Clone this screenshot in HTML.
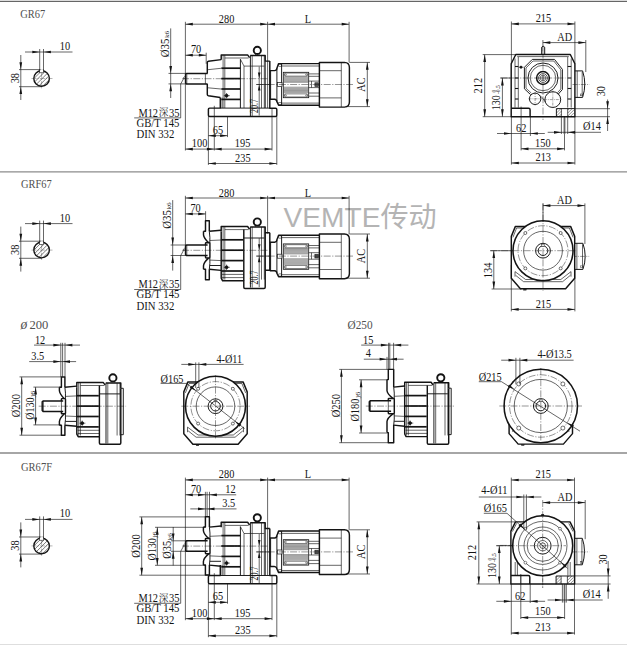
<!DOCTYPE html>
<html><head><meta charset="utf-8"><title>GR67</title>
<style>
html,body{margin:0;padding:0;background:#fff;}
body{width:627px;height:645px;overflow:hidden;}
svg{display:block;}
text{white-space:pre;}
</style></head><body>
<svg width="627" height="645" viewBox="0 0 627 645">
<rect x="0" y="0" width="627" height="645" fill="#ffffff"/>
<rect x="0" y="0" width="627" height="1" fill="#dcdcdc"/>
<rect x="0" y="1" width="627" height="1" fill="#666666"/>
<line x1="0" y1="171.9" x2="627" y2="171.9" stroke="#8c8c8c" stroke-width="1.4"/>
<line x1="0" y1="452.9" x2="627" y2="452.9" stroke="#888888" stroke-width="1.5"/>
<rect x="0" y="644" width="627" height="1" fill="#dedede"/>
<text x="0" y="0" font-family='"Liberation Serif", "Noto Serif CJK SC", serif' font-size="13" text-anchor="start" fill="#505050" transform="translate(20.3 17.5)" textLength="25" lengthAdjust="spacingAndGlyphs">GR67</text>
<text x="0" y="0" font-family='"Liberation Serif", "Noto Serif CJK SC", serif' font-size="13" text-anchor="start" fill="#505050" transform="translate(21 187.8)" textLength="30.8" lengthAdjust="spacingAndGlyphs">GRF67</text>
<text x="0" y="0" font-family='"Liberation Serif", "Noto Serif CJK SC", serif' font-size="12.6" fill="#505050" transform="translate(20.4 329)"><tspan font-style="italic" font-size="15.5" textLength="6.8" lengthAdjust="spacingAndGlyphs">ø</tspan><tspan x="5.85"> 200</tspan></text>
<text x="0" y="0" font-family='"Liberation Serif", "Noto Serif CJK SC", serif' font-size="13" text-anchor="start" fill="#505050" transform="translate(347.6 328.5)" textLength="25" lengthAdjust="spacingAndGlyphs">Ø250</text>
<text x="0" y="0" font-family='"Liberation Serif", "Noto Serif CJK SC", serif' font-size="13" text-anchor="start" fill="#505050" transform="translate(21 470.8)" textLength="31" lengthAdjust="spacingAndGlyphs">GR67F</text>
<text x="0" y="0" font-family='"Liberation Sans", "Noto Sans CJK SC", sans-serif' font-size="28" text-anchor="start" fill="#b4b4b4" transform="translate(283.6 227.4)" textLength="153" lengthAdjust="spacingAndGlyphs">VEMTE传动</text>
<line x1="34.31" y1="78.16" x2="41.26" y2="71.21" stroke="#222" stroke-width="0.6"/>
<line x1="34.98" y1="81.58" x2="44.68" y2="71.88" stroke="#222" stroke-width="0.6"/>
<line x1="36.73" y1="83.94" x2="47.04" y2="73.63" stroke="#222" stroke-width="0.6"/>
<line x1="39.33" y1="85.44" x2="48.54" y2="76.23" stroke="#222" stroke-width="0.6"/>
<line x1="43.26" y1="85.61" x2="48.71" y2="80.16" stroke="#222" stroke-width="0.6"/>
<circle cx="41.6" cy="78.5" r="7.8" fill="none" stroke="#141414" stroke-width="1.4"/>
<rect x="39.7" y="69.4" width="3.8" height="3.4" rx="0" fill="#fff" stroke="#141414" stroke-width="0.6"/>
<line x1="39.7" y1="69.4" x2="43.5" y2="69.4" stroke="#fff" stroke-width="0.9"/>
<line x1="25" y1="52" x2="72.5" y2="52" stroke="#141414" stroke-width="0.65"/>
<polygon points="39.7,52 32.3,50.65 32.3,53.35" fill="#141414"/>
<polygon points="43.5,52 50.9,50.65 50.9,53.35" fill="#141414"/>
<line x1="39.7" y1="49" x2="39.7" y2="70.6" stroke="#141414" stroke-width="0.65"/>
<line x1="43.5" y1="49" x2="43.5" y2="70.6" stroke="#141414" stroke-width="0.65"/>
<text x="0" y="0.4" font-family='"Liberation Serif", "Noto Serif CJK SC", serif' font-size="11.48" text-anchor="middle" fill="#141414" transform="translate(65 49.6) scale(0.9 1)">10</text>
<line x1="20.8" y1="55" x2="20.8" y2="100" stroke="#141414" stroke-width="0.65"/>
<polygon points="20.8,69.6 19.45,62.2 22.15,62.2" fill="#141414"/>
<polygon points="20.8,86.7 19.45,94.1 22.15,94.1" fill="#141414"/>
<line x1="19" y1="69.6" x2="40.5" y2="69.6" stroke="#141414" stroke-width="0.65"/>
<line x1="19" y1="86.7" x2="42" y2="86.7" stroke="#141414" stroke-width="0.65"/>
<text x="0" y="0.4" font-family='"Liberation Serif", "Noto Serif CJK SC", serif' font-size="11.48" text-anchor="middle" fill="#141414" transform="translate(18.2 78.2) rotate(-90) scale(0.9 1)">38</text>
<line x1="31.5" y1="78.5" x2="52.5" y2="78.5" stroke="#444" stroke-width="0.4" stroke-dasharray="5 1.2 1 1.2"/>
<line x1="41.6" y1="72.8" x2="41.6" y2="89" stroke="#444" stroke-width="0.4" stroke-dasharray="5 1.2 1 1.2"/>
<path d="M207.6,73.4 H186.5 L185.6,74.3 V83 L186.5,83.9 H207.6" fill="none" stroke="#141414" stroke-width="1.45" stroke-linejoin="round"/>
<line x1="186.8" y1="73.4" x2="186.8" y2="83.9" stroke="#141414" stroke-width="0.65"/>
<line x1="182.1" y1="78.7" x2="268" y2="78.7" stroke="#141414" stroke-width="0.45" stroke-dasharray="7 1.5 1.2 1.5"/>
<path d="M221.2,59.8 V54.9 H247.6 L249.6,57.6" fill="none" stroke="#141414" stroke-width="1.45" stroke-linejoin="round"/>
<path d="M250.2,55.4 H265.2 V61.1 H269.8" fill="none" stroke="#141414" stroke-width="1.45" stroke-linejoin="round"/>
<line x1="224.8" y1="58" x2="248.6" y2="58" stroke="#141414" stroke-width="0.65"/>
<line x1="223.1" y1="55" x2="223.1" y2="108" stroke="#141414" stroke-width="0.65"/>
<line x1="224.8" y1="55" x2="224.8" y2="108" stroke="#141414" stroke-width="0.65"/>
<line x1="221.3" y1="68.2" x2="240.4" y2="68.2" stroke="#141414" stroke-width="1.7"/>
<line x1="221.3" y1="78.6" x2="240.4" y2="78.6" stroke="#141414" stroke-width="1.7"/>
<line x1="221.3" y1="89" x2="240.4" y2="89" stroke="#141414" stroke-width="1.7"/>
<line x1="221.3" y1="99.4" x2="240.4" y2="99.4" stroke="#141414" stroke-width="1.7"/>
<line x1="240.4" y1="59.2" x2="240.4" y2="108" stroke="#141414" stroke-width="0.95"/>
<line x1="240.4" y1="59.2" x2="244" y2="66.1" stroke="#141414" stroke-width="0.65"/>
<line x1="244" y1="66.1" x2="244" y2="108" stroke="#141414" stroke-width="0.65"/>
<line x1="244" y1="66.1" x2="264.3" y2="66.1" stroke="#141414" stroke-width="0.65"/>
<line x1="250.4" y1="55.4" x2="250.4" y2="116" stroke="#141414" stroke-width="0.95"/>
<line x1="252.2" y1="55.4" x2="252.2" y2="116" stroke="#141414" stroke-width="0.65"/>
<line x1="261.5" y1="55.4" x2="261.5" y2="108" stroke="#141414" stroke-width="0.65"/>
<line x1="264.3" y1="55.4" x2="264.3" y2="108" stroke="#141414" stroke-width="0.65"/>
<circle cx="226.6" cy="95.7" r="1.4" fill="#141414" stroke="#141414" stroke-width="0.9"/>
<line x1="223.8" y1="95.7" x2="229.8" y2="95.7" stroke="#141414" stroke-width="0.6"/>
<line x1="226.6" y1="93" x2="226.6" y2="98.4" stroke="#141414" stroke-width="0.6"/>
<circle cx="257.3" cy="50.4" r="3.6" fill="none" stroke="#141414" stroke-width="1.9"/>
<line x1="255.5" y1="53.6" x2="255.5" y2="55.2" stroke="#141414" stroke-width="0.7"/>
<line x1="259.1" y1="53.6" x2="259.1" y2="55.2" stroke="#141414" stroke-width="0.7"/>
<line x1="259.2" y1="66.6" x2="259.2" y2="115.6" stroke="#141414" stroke-width="0.65"/>
<polygon points="259.2,78.4 257.9,72.6 260.5,72.6" fill="#141414"/>
<polygon points="259.2,84.8 257.9,90.6 260.5,90.6" fill="#141414"/>
<line x1="256.2" y1="84.5" x2="270" y2="84.5" stroke="#141414" stroke-width="0.65"/>
<text x="0" y="0.4" font-family='"Liberation Serif", "Noto Serif CJK SC", serif' font-size="11.48" text-anchor="middle" fill="#141414" transform="translate(258 106) rotate(-90) scale(0.9 1)" textLength="15.56" lengthAdjust="spacingAndGlyphs">20.7</text>
<path d="M221.2,59.6 L208.4,61.3 Q207.3,61.5 207.3,62.6 V73.4" fill="none" stroke="#141414" stroke-width="1.45" stroke-linejoin="round"/>
<path d="M207.3,83.9 V94.6 Q207.3,95.6 208.4,95.8 L220.3,97.5" fill="none" stroke="#141414" stroke-width="1.45" stroke-linejoin="round"/>
<line x1="207.9" y1="69.7" x2="221" y2="68.3" stroke="#141414" stroke-width="0.65"/>
<line x1="207.9" y1="87.8" x2="221" y2="89" stroke="#141414" stroke-width="0.65"/>
<line x1="205.4" y1="73.4" x2="205.4" y2="83.9" stroke="#141414" stroke-width="0.65"/>
<path d="M220.3,97.5 V108.1 H209.6 Q208.4,108.1 208.4,109.3 V115.2 Q208.4,116.4 209.6,116.4 H275.6 Q276.8,116.4 276.8,115.2 V109.4 Q276.8,108.2 275.6,108.2 H269.8 V61.1" fill="none" stroke="#141414" stroke-width="1.45" stroke-linejoin="round"/>
<line x1="220.3" y1="108.1" x2="269.8" y2="108.1" stroke="#141414" stroke-width="0.95"/>
<line x1="265.2" y1="61.1" x2="265.2" y2="108" stroke="#141414" stroke-width="0.95"/>
<line x1="214.3" y1="105.8" x2="214.3" y2="116.4" stroke="#141414" stroke-width="0.65"/>
<line x1="222" y1="97.5" x2="222" y2="108" stroke="#141414" stroke-width="0.65"/>
<line x1="272" y1="108.2" x2="272" y2="116.4" stroke="#141414" stroke-width="0.65"/>
<path d="M269.8,70.6 H274.6 Q276.7,70.4 276.9,68.2 L278.6,63.6 H319.4" fill="none" stroke="#141414" stroke-width="1.45" stroke-linejoin="round"/>
<path d="M269.8,99.2 H274.6 Q276.7,99.4 276.9,101.6 L278.6,105.2 H319.4" fill="none" stroke="#141414" stroke-width="1.45" stroke-linejoin="round"/>
<line x1="270.6" y1="70.6" x2="270.6" y2="99.2" stroke="#141414" stroke-width="0.95"/>
<line x1="276.9" y1="68.2" x2="276.9" y2="101.6" stroke="#141414" stroke-width="0.95"/>
<line x1="281.6" y1="63.8" x2="281.6" y2="105" stroke="#141414" stroke-width="0.95"/>
<rect x="278.8" y="64.3" width="2.4" height="2.2" rx="0" fill="none" stroke="#141414" stroke-width="0.5"/>
<rect x="278.8" y="102.3" width="2.4" height="2.2" rx="0" fill="none" stroke="#141414" stroke-width="0.5"/>
<line x1="281.6" y1="66" x2="319.4" y2="66" stroke="#141414" stroke-width="0.65"/>
<line x1="281.6" y1="103.1" x2="319.4" y2="103.1" stroke="#141414" stroke-width="0.65"/>
<path d="M319.4,62.4 H344.4 Q349.4,62.6 349.4,67.6 V102 Q349.4,106.9 344.4,107.1 H319.4 Z" fill="none" stroke="#141414" stroke-width="1.45" stroke-linejoin="round"/>
<line x1="341.3" y1="62.6" x2="341.3" y2="107" stroke="#141414" stroke-width="0.65"/>
<line x1="319.4" y1="70.7" x2="341.3" y2="70.7" stroke="#141414" stroke-width="0.65"/>
<line x1="319.4" y1="97.9" x2="341.3" y2="97.9" stroke="#141414" stroke-width="0.65"/>
<rect x="283.3" y="72.3" width="25.4" height="25.4" rx="0" fill="none" stroke="#141414" stroke-width="0.8"/>
<rect x="284.4" y="73.1" width="23.2" height="3" rx="0.8" fill="none" stroke="#141414" stroke-width="0.5"/>
<rect x="284.4" y="93.9" width="23.2" height="3" rx="0.8" fill="none" stroke="#141414" stroke-width="0.5"/>
<line x1="283.8" y1="76.9" x2="308.2" y2="76.9" stroke="#333" stroke-width="0.5"/>
<line x1="283.8" y1="78" x2="308.2" y2="78" stroke="#333" stroke-width="0.5"/>
<line x1="283.8" y1="79.1" x2="308.2" y2="79.1" stroke="#333" stroke-width="0.5"/>
<line x1="283.8" y1="80.2" x2="308.2" y2="80.2" stroke="#333" stroke-width="0.5"/>
<line x1="283.8" y1="81.3" x2="308.2" y2="81.3" stroke="#333" stroke-width="0.5"/>
<line x1="283.8" y1="82.3" x2="308.2" y2="82.3" stroke="#333" stroke-width="0.5"/>
<line x1="283.8" y1="87.2" x2="308.2" y2="87.2" stroke="#333" stroke-width="0.5"/>
<line x1="283.8" y1="88.3" x2="308.2" y2="88.3" stroke="#333" stroke-width="0.5"/>
<line x1="283.8" y1="89.4" x2="308.2" y2="89.4" stroke="#333" stroke-width="0.5"/>
<line x1="283.8" y1="90.5" x2="308.2" y2="90.5" stroke="#333" stroke-width="0.5"/>
<line x1="283.8" y1="91.6" x2="308.2" y2="91.6" stroke="#333" stroke-width="0.5"/>
<line x1="283.8" y1="92.7" x2="308.2" y2="92.7" stroke="#333" stroke-width="0.5"/>
<circle cx="285.6" cy="74.6" r="0.8" fill="none" stroke="#141414" stroke-width="0.4"/>
<circle cx="306.4" cy="74.6" r="0.8" fill="none" stroke="#141414" stroke-width="0.4"/>
<circle cx="285.6" cy="95.4" r="0.8" fill="none" stroke="#141414" stroke-width="0.4"/>
<circle cx="306.4" cy="95.4" r="0.8" fill="none" stroke="#141414" stroke-width="0.4"/>
<line x1="308.7" y1="73.9" x2="319.4" y2="73.9" stroke="#141414" stroke-width="0.65"/>
<line x1="308.7" y1="76.3" x2="319.4" y2="76.3" stroke="#141414" stroke-width="0.65"/>
<line x1="308.7" y1="81.1" x2="319.4" y2="81.1" stroke="#141414" stroke-width="0.65"/>
<line x1="308.7" y1="87.6" x2="319.4" y2="87.6" stroke="#141414" stroke-width="0.65"/>
<line x1="308.7" y1="93" x2="319.4" y2="93" stroke="#141414" stroke-width="0.65"/>
<line x1="308.7" y1="96.2" x2="319.4" y2="96.2" stroke="#141414" stroke-width="0.65"/>
<line x1="311.5" y1="81.1" x2="311.5" y2="87.6" stroke="#141414" stroke-width="0.65"/>
<rect x="277.4" y="82.6" width="4.6" height="4" rx="0" fill="#fff" stroke="#141414" stroke-width="0.7"/>
<rect x="314.9" y="82.8" width="3.4" height="3.6" rx="0" fill="#555" stroke="#141414" stroke-width="0.6"/>
<line x1="256.5" y1="84.5" x2="353" y2="84.5" stroke="#141414" stroke-width="0.45" stroke-dasharray="7 1.5 1.2 1.5"/>
<line x1="185.4" y1="24.2" x2="267.6" y2="24.2" stroke="#141414" stroke-width="0.65"/>
<polygon points="185.4,24.2 192.8,22.85 192.8,25.55" fill="#141414"/>
<polygon points="267.6,24.2 260.2,22.85 260.2,25.55" fill="#141414"/>
<line x1="267.6" y1="24.2" x2="349.1" y2="24.2" stroke="#141414" stroke-width="0.65"/>
<polygon points="267.6,24.2 275,22.85 275,25.55" fill="#141414"/>
<polygon points="349.1,24.2 341.7,22.85 341.7,25.55" fill="#141414"/>
<text x="0" y="0.4" font-family='"Liberation Serif", "Noto Serif CJK SC", serif' font-size="11.48" text-anchor="middle" fill="#141414" transform="translate(226.6 22.4) scale(0.9 1)">280</text>
<text x="0" y="0.4" font-family='"Liberation Serif", "Noto Serif CJK SC", serif' font-size="11.48" text-anchor="middle" fill="#141414" transform="translate(307.9 22.4) scale(0.9 1)">L</text>
<line x1="185.4" y1="21.8" x2="185.4" y2="150.5" stroke="#141414" stroke-width="0.65"/>
<line x1="267.6" y1="21.8" x2="267.6" y2="108" stroke="#141414" stroke-width="0.65"/>
<line x1="349.1" y1="21.8" x2="349.1" y2="62.4" stroke="#141414" stroke-width="0.65"/>
<line x1="349.4" y1="62.4" x2="370" y2="62.4" stroke="#141414" stroke-width="0.65"/>
<line x1="346" y1="106.6" x2="370" y2="106.6" stroke="#141414" stroke-width="0.65"/>
<line x1="367.3" y1="62.4" x2="367.3" y2="106.6" stroke="#141414" stroke-width="0.65"/>
<polygon points="367.3,62.4 365.95,69.8 368.65,69.8" fill="#141414"/>
<polygon points="367.3,106.6 365.95,99.2 368.65,99.2" fill="#141414"/>
<text x="0" y="0.4" font-family='"Liberation Serif", "Noto Serif CJK SC", serif' font-size="11.48" text-anchor="middle" fill="#141414" transform="translate(365 84.5) rotate(-90) scale(0.9 1)">AC</text>
<line x1="185.4" y1="55.2" x2="206.2" y2="55.2" stroke="#141414" stroke-width="0.65"/>
<polygon points="185.4,55.2 192.8,53.85 192.8,56.55" fill="#141414"/>
<polygon points="206.2,55.2 198.8,53.85 198.8,56.55" fill="#141414"/>
<text x="0" y="0.4" font-family='"Liberation Serif", "Noto Serif CJK SC", serif' font-size="11.48" text-anchor="middle" fill="#141414" transform="translate(196.1 52.9) scale(0.9 1)">70</text>
<line x1="206.2" y1="52.7" x2="206.2" y2="63.8" stroke="#141414" stroke-width="0.65"/>
<line x1="170.7" y1="28.4" x2="170.7" y2="98" stroke="#141414" stroke-width="0.65"/>
<polygon points="170.7,73.4 169.35,66 172.05,66" fill="#141414"/>
<polygon points="170.7,83.9 169.35,91.3 172.05,91.3" fill="#141414"/>
<line x1="168.5" y1="73.4" x2="186" y2="73.4" stroke="#141414" stroke-width="0.65"/>
<line x1="168.5" y1="83.9" x2="186" y2="83.9" stroke="#141414" stroke-width="0.65"/>
<text x="0" y="0.4" font-family='"Liberation Serif", "Noto Serif CJK SC", serif' font-size="11.82" text-anchor="start" fill="#141414" transform="translate(169 57.2) rotate(-90) scale(0.9 1)" textLength="20.67" lengthAdjust="spacingAndGlyphs">Ø35</text>
<text x="0" y="0.4" font-family='"Liberation Serif", "Noto Serif CJK SC", serif' font-size="6.47" text-anchor="start" fill="#141414" transform="translate(169 38) rotate(-90) scale(0.9 1)" textLength="8" lengthAdjust="spacingAndGlyphs">k6</text>
<text x="0" y="0.4" font-family='"Liberation Serif", "Noto Serif CJK SC", serif' font-size="11.6" fill="#141414" transform="translate(138.4 116.2) scale(0.9 1)"><tspan textLength="21.8" lengthAdjust="spacingAndGlyphs">M12</tspan><tspan x="22.5" dy="-0.4" font-size="10.7" fill="#333">深</tspan><tspan x="33.9" dy="0.4" textLength="11.7" lengthAdjust="spacingAndGlyphs">35</tspan></text>
<line x1="134.2" y1="117.9" x2="180.7" y2="117.9" stroke="#141414" stroke-width="0.65"/>
<text x="0" y="0.4" font-family='"Liberation Serif", "Noto Serif CJK SC", serif' font-size="11.6" text-anchor="start" fill="#141414" transform="translate(136.4 126.2) scale(0.9 1)" textLength="47.78" lengthAdjust="spacingAndGlyphs">GB/T 145</text>
<text x="0" y="0.4" font-family='"Liberation Serif", "Noto Serif CJK SC", serif' font-size="11.6" text-anchor="start" fill="#141414" transform="translate(136.4 138) scale(0.9 1)" textLength="42.22" lengthAdjust="spacingAndGlyphs">DIN 332</text>
<line x1="180.7" y1="117.9" x2="180.7" y2="84" stroke="#141414" stroke-width="0.65"/>
<line x1="180.7" y1="84" x2="184.2" y2="77.6" stroke="#141414" stroke-width="0.65"/>
<path d="M185.2,76 L183.4,77.7 L185.2,79.2" fill="none" stroke="#141414" stroke-width="0.5" stroke-linejoin="round"/>
<line x1="208.4" y1="116.4" x2="208.4" y2="164.9" stroke="#141414" stroke-width="0.65"/>
<line x1="227.5" y1="116.4" x2="227.5" y2="137.1" stroke="#141414" stroke-width="0.65"/>
<line x1="214.3" y1="116.4" x2="214.3" y2="150.5" stroke="#141414" stroke-width="0.65"/>
<line x1="272" y1="116.4" x2="272" y2="150.5" stroke="#141414" stroke-width="0.65"/>
<line x1="276.8" y1="116.4" x2="276.8" y2="164.9" stroke="#141414" stroke-width="0.65"/>
<line x1="208.4" y1="135.7" x2="227.5" y2="135.7" stroke="#141414" stroke-width="0.65"/>
<polygon points="208.4,135.7 215.8,134.35 215.8,137.05" fill="#141414"/>
<polygon points="227.5,135.7 220.1,134.35 220.1,137.05" fill="#141414"/>
<text x="0" y="0.4" font-family='"Liberation Serif", "Noto Serif CJK SC", serif' font-size="11.48" text-anchor="middle" fill="#141414" transform="translate(218 133.1) scale(0.9 1)">65</text>
<line x1="185.4" y1="149.1" x2="214.3" y2="149.1" stroke="#141414" stroke-width="0.65"/>
<polygon points="185.4,149.1 192.8,147.75 192.8,150.45" fill="#141414"/>
<polygon points="214.3,149.1 206.9,147.75 206.9,150.45" fill="#141414"/>
<line x1="214.3" y1="149.1" x2="272" y2="149.1" stroke="#141414" stroke-width="0.65"/>
<polygon points="214.3,149.1 221.7,147.75 221.7,150.45" fill="#141414"/>
<polygon points="272,149.1 264.6,147.75 264.6,150.45" fill="#141414"/>
<text x="0" y="0.4" font-family='"Liberation Serif", "Noto Serif CJK SC", serif' font-size="11.48" text-anchor="middle" fill="#141414" transform="translate(199.6 146.7) scale(0.9 1)">100</text>
<text x="0" y="0.4" font-family='"Liberation Serif", "Noto Serif CJK SC", serif' font-size="11.48" text-anchor="middle" fill="#141414" transform="translate(242.6 146.7) scale(0.9 1)">195</text>
<line x1="208.4" y1="163.5" x2="276.8" y2="163.5" stroke="#141414" stroke-width="0.65"/>
<polygon points="208.4,163.5 215.8,162.15 215.8,164.85" fill="#141414"/>
<polygon points="276.8,163.5 269.4,162.15 269.4,164.85" fill="#141414"/>
<text x="0" y="0.4" font-family='"Liberation Serif", "Noto Serif CJK SC", serif' font-size="11.48" text-anchor="middle" fill="#141414" transform="translate(242.8 161.2) scale(0.9 1)">235</text>
<path d="M515.8,54.5 H570.3 L574.9,63.7 V116.7 H511.2 V63.7 Z" fill="none" stroke="#141414" stroke-width="1.45" stroke-linejoin="round"/>
<path d="M517.2,56.6 H568.8" fill="none" stroke="#141414" stroke-width="0.65" stroke-linejoin="round"/>
<line x1="515" y1="58.5" x2="515" y2="107.6" stroke="#141414" stroke-width="0.65"/>
<line x1="518.3" y1="57" x2="518.3" y2="107.6" stroke="#141414" stroke-width="0.65"/>
<line x1="567.7" y1="57" x2="567.7" y2="107.6" stroke="#141414" stroke-width="0.65"/>
<line x1="571.2" y1="58.5" x2="571.2" y2="107.6" stroke="#141414" stroke-width="0.65"/>
<line x1="515" y1="66.5" x2="518.3" y2="66.5" stroke="#141414" stroke-width="1.1"/>
<line x1="567.7" y1="66.5" x2="571.2" y2="66.5" stroke="#141414" stroke-width="1.1"/>
<line x1="515" y1="78" x2="518.3" y2="78" stroke="#141414" stroke-width="1.1"/>
<line x1="567.7" y1="78" x2="571.2" y2="78" stroke="#141414" stroke-width="1.1"/>
<line x1="515" y1="88.5" x2="518.3" y2="88.5" stroke="#141414" stroke-width="1.1"/>
<line x1="567.7" y1="88.5" x2="571.2" y2="88.5" stroke="#141414" stroke-width="1.1"/>
<line x1="515" y1="99" x2="518.3" y2="99" stroke="#141414" stroke-width="1.1"/>
<line x1="567.7" y1="99" x2="571.2" y2="99" stroke="#141414" stroke-width="1.1"/>
<path d="M532.3,59.4 H554.5 L562.4,69.4 V89.5 L558.2,94.2" fill="none" stroke="#141414" stroke-width="0.95" stroke-linejoin="round"/>
<path d="M532.3,59.4 L524.4,67.3 V88.8 L530.6,94.6" fill="none" stroke="#141414" stroke-width="0.95" stroke-linejoin="round"/>
<path d="M533.0,61.0 H553.8 L560.8,69.9 V89.0 L557.4,92.8" fill="none" stroke="#141414" stroke-width="0.65" stroke-linejoin="round"/>
<path d="M533.0,61.0 L526.0,67.9 V88.2 L531.4,93.2" fill="none" stroke="#141414" stroke-width="0.65" stroke-linejoin="round"/>
<circle cx="543" cy="78" r="15" fill="none" stroke="#141414" stroke-width="0.95"/>
<circle cx="543" cy="78" r="12.7" fill="none" stroke="#141414" stroke-width="0.65"/>
<circle cx="543" cy="78" r="6.4" fill="none" stroke="#141414" stroke-width="1.5"/>
<circle cx="543" cy="78" r="4.4" fill="none" stroke="#141414" stroke-width="0.7"/>
<circle cx="543" cy="78" r="2.8" fill="none" stroke="#141414" stroke-width="0.6"/>
<circle cx="543" cy="78" r="1.3" fill="none" stroke="#141414" stroke-width="0.6"/>
<circle cx="535.1" cy="98.8" r="5.7" fill="none" stroke="#141414" stroke-width="0.95"/>
<circle cx="552.8" cy="99.6" r="7.9" fill="none" stroke="#141414" stroke-width="0.95"/>
<line x1="535.1" y1="92" x2="535.1" y2="105.5" stroke="#141414" stroke-width="0.4" stroke-dasharray="3 1 1 1"/>
<line x1="528.5" y1="98.8" x2="541.5" y2="98.8" stroke="#141414" stroke-width="0.4" stroke-dasharray="3 1 1 1"/>
<line x1="552.8" y1="90.5" x2="552.8" y2="108.6" stroke="#141414" stroke-width="0.4" stroke-dasharray="3 1 1 1"/>
<line x1="543.8" y1="99.6" x2="561.8" y2="99.6" stroke="#141414" stroke-width="0.4" stroke-dasharray="3 1 1 1"/>
<path d="M539.6,95.4 Q543,97.5 545.6,102.6" fill="none" stroke="#141414" stroke-width="0.65" stroke-linejoin="round"/>
<circle cx="521" cy="67.2" r="1.1" fill="#141414" stroke="#141414" stroke-width="0.8"/>
<line x1="518.6" y1="67.2" x2="523.6" y2="67.2" stroke="#141414" stroke-width="0.5"/>
<path d="M541.7,54.5 V47.2 Q543.2,45.2 544.7,47.2 V54.5" fill="none" stroke="#141414" stroke-width="1" stroke-linejoin="round"/>
<path d="M511.2,108.2 H528.6 Q530.1,108.2 530.1,109.7 V116.7" fill="none" stroke="#141414" stroke-width="1.45" stroke-linejoin="round"/>
<line x1="521.1" y1="106.6" x2="521.1" y2="116.7" stroke="#141414" stroke-width="0.65"/>
<line x1="556.4" y1="110.1" x2="557.9" y2="108.6" stroke="#333" stroke-width="0.55"/>
<line x1="556.4" y1="113.1" x2="560.9" y2="108.6" stroke="#333" stroke-width="0.55"/>
<line x1="556.4" y1="116.1" x2="561.4" y2="111.1" stroke="#333" stroke-width="0.55"/>
<line x1="559.3" y1="116.2" x2="561.4" y2="114.1" stroke="#333" stroke-width="0.55"/>
<line x1="567.7" y1="110.1" x2="569.2" y2="108.6" stroke="#333" stroke-width="0.55"/>
<line x1="567.7" y1="113.1" x2="572.2" y2="108.6" stroke="#333" stroke-width="0.55"/>
<line x1="567.7" y1="116.1" x2="573.9" y2="109.9" stroke="#333" stroke-width="0.55"/>
<line x1="570.6" y1="116.2" x2="573.9" y2="112.9" stroke="#333" stroke-width="0.55"/>
<line x1="573.6" y1="116.2" x2="573.9" y2="115.9" stroke="#333" stroke-width="0.55"/>
<path d="M556.4,116.7 V108.6 H574.9" fill="none" stroke="#141414" stroke-width="0.95" stroke-linejoin="round"/>
<line x1="561.4" y1="108.6" x2="561.4" y2="116.7" stroke="#141414" stroke-width="0.7"/>
<line x1="567.7" y1="108.6" x2="567.7" y2="116.7" stroke="#141414" stroke-width="0.7"/>
<path d="M574.9,70.9 H582.6 Q587.0,84 582.6,97.4 H574.9" fill="none" stroke="#141414" stroke-width="1" stroke-linejoin="round"/>
<line x1="577.2" y1="70.9" x2="577.2" y2="97.4" stroke="#141414" stroke-width="0.65"/>
<line x1="582.2" y1="72" x2="582.2" y2="96.4" stroke="#141414" stroke-width="0.65"/>
<rect x="580.6" y="94" width="1.6" height="1.8" rx="0" fill="none" stroke="#141414" stroke-width="0.4"/>
<line x1="572.5" y1="84.5" x2="589.5" y2="84.5" stroke="#141414" stroke-width="0.45" stroke-dasharray="5 1.2 1 1.2"/>
<line x1="543" y1="51.5" x2="543" y2="120" stroke="#141414" stroke-width="0.45" stroke-dasharray="7 1.5 1.2 1.5"/>
<line x1="500.4" y1="78" x2="565.5" y2="78" stroke="#141414" stroke-width="0.45" stroke-dasharray="7 1.5 1.2 1.5"/>
<line x1="511.4" y1="23.9" x2="574.9" y2="23.9" stroke="#141414" stroke-width="0.65"/>
<polygon points="511.4,23.9 518.8,22.55 518.8,25.25" fill="#141414"/>
<polygon points="574.9,23.9 567.5,22.55 567.5,25.25" fill="#141414"/>
<text x="0" y="0.4" font-family='"Liberation Serif", "Noto Serif CJK SC", serif' font-size="11.48" text-anchor="middle" fill="#141414" transform="translate(543.4 22) scale(0.9 1)">215</text>
<line x1="511.4" y1="21.5" x2="511.4" y2="63.7" stroke="#141414" stroke-width="0.65"/>
<line x1="574.9" y1="21.5" x2="574.9" y2="63.7" stroke="#141414" stroke-width="0.65"/>
<line x1="542.9" y1="42.6" x2="585.8" y2="42.6" stroke="#141414" stroke-width="0.65"/>
<polygon points="542.9,42.6 550.3,41.25 550.3,43.95" fill="#141414"/>
<polygon points="585.8,42.6 578.4,41.25 578.4,43.95" fill="#141414"/>
<text x="0" y="0.4" font-family='"Liberation Serif", "Noto Serif CJK SC", serif' font-size="11.48" text-anchor="middle" fill="#141414" transform="translate(564.8 40.2) scale(0.9 1)">AD</text>
<line x1="585.8" y1="40" x2="585.8" y2="72" stroke="#141414" stroke-width="0.65"/>
<line x1="542.9" y1="40" x2="542.9" y2="51.5" stroke="#141414" stroke-width="0.65"/>
<line x1="484.7" y1="54.6" x2="484.7" y2="116.7" stroke="#141414" stroke-width="0.65"/>
<polygon points="484.7,54.6 483.35,62 486.05,62" fill="#141414"/>
<polygon points="484.7,116.7 483.35,109.3 486.05,109.3" fill="#141414"/>
<line x1="482.7" y1="54.6" x2="515.8" y2="54.6" stroke="#141414" stroke-width="0.65"/>
<line x1="482.7" y1="116.7" x2="511.2" y2="116.7" stroke="#141414" stroke-width="0.65"/>
<text x="0" y="0.4" font-family='"Liberation Serif", "Noto Serif CJK SC", serif' font-size="11.48" text-anchor="middle" fill="#141414" transform="translate(482 85.7) rotate(-90) scale(0.9 1)">212</text>
<line x1="502.4" y1="78" x2="502.4" y2="116.7" stroke="#141414" stroke-width="0.65"/>
<polygon points="502.4,78 501.05,85.4 503.75,85.4" fill="#141414"/>
<polygon points="502.4,116.7 501.05,109.3 503.75,109.3" fill="#141414"/>
<line x1="500.4" y1="78" x2="511" y2="78" stroke="#141414" stroke-width="0.65"/>
<text x="0" y="0.4" font-family='"Liberation Serif", "Noto Serif CJK SC", serif' font-size="11.48" text-anchor="start" fill="#141414" transform="translate(499.6 110.2) rotate(-90) scale(0.9 1)" textLength="16.67" lengthAdjust="spacingAndGlyphs">130</text>
<text x="0" y="0.4" font-family='"Liberation Serif", "Noto Serif CJK SC", serif' font-size="6.24" text-anchor="start" fill="#141414" transform="translate(495.4 92.6) rotate(-90) scale(0.9 1)">0</text>
<text x="0" y="0.4" font-family='"Liberation Serif", "Noto Serif CJK SC", serif' font-size="6.24" text-anchor="start" fill="#141414" transform="translate(500 94) rotate(-90) scale(0.9 1)">-0.5</text>
<line x1="574.9" y1="108.7" x2="610" y2="108.7" stroke="#141414" stroke-width="0.65"/>
<line x1="574.9" y1="116.7" x2="610" y2="116.7" stroke="#141414" stroke-width="0.65"/>
<line x1="607.6" y1="99.5" x2="607.6" y2="131" stroke="#141414" stroke-width="0.65"/>
<polygon points="607.6,108.7 606.25,101.3 608.95,101.3" fill="#141414"/>
<polygon points="607.6,116.7 606.25,124.1 608.95,124.1" fill="#141414"/>
<text x="0" y="0.4" font-family='"Liberation Serif", "Noto Serif CJK SC", serif' font-size="11.48" text-anchor="middle" fill="#141414" transform="translate(604.6 91.2) rotate(-90) scale(0.9 1)">30</text>
<line x1="561.4" y1="116.7" x2="561.4" y2="134" stroke="#141414" stroke-width="0.65"/>
<line x1="567.7" y1="116.7" x2="567.7" y2="134" stroke="#141414" stroke-width="0.65"/>
<line x1="563.5" y1="116.7" x2="563.5" y2="134" stroke="#555" stroke-width="0.4"/>
<line x1="565.6" y1="116.7" x2="565.6" y2="134" stroke="#555" stroke-width="0.4"/>
<line x1="547.7" y1="132.3" x2="601" y2="132.3" stroke="#141414" stroke-width="0.65"/>
<polygon points="561.4,132.3 554,130.95 554,133.65" fill="#141414"/>
<polygon points="567.7,132.3 575.1,130.95 575.1,133.65" fill="#141414"/>
<text x="0" y="0.4" font-family='"Liberation Serif", "Noto Serif CJK SC", serif' font-size="11.48" text-anchor="middle" fill="#141414" transform="translate(592 129.8) scale(0.9 1)">Ø14</text>
<line x1="497" y1="133.5" x2="544.8" y2="133.5" stroke="#141414" stroke-width="0.65"/>
<polygon points="511.4,133.5 504,132.15 504,134.85" fill="#141414"/>
<polygon points="530.4,133.5 537.8,132.15 537.8,134.85" fill="#141414"/>
<text x="0" y="0.4" font-family='"Liberation Serif", "Noto Serif CJK SC", serif' font-size="11.48" text-anchor="middle" fill="#141414" transform="translate(521.2 131.4) scale(0.9 1)">62</text>
<line x1="511.4" y1="116.7" x2="511.4" y2="164.6" stroke="#141414" stroke-width="0.65"/>
<line x1="521.1" y1="116.7" x2="521.1" y2="150.4" stroke="#141414" stroke-width="0.65"/>
<line x1="530.4" y1="116.7" x2="530.4" y2="136" stroke="#141414" stroke-width="0.65"/>
<line x1="521.1" y1="148.8" x2="564.5" y2="148.8" stroke="#141414" stroke-width="0.65"/>
<polygon points="521.1,148.8 528.5,147.45 528.5,150.15" fill="#141414"/>
<polygon points="564.5,148.8 557.1,147.45 557.1,150.15" fill="#141414"/>
<text x="0" y="0.4" font-family='"Liberation Serif", "Noto Serif CJK SC", serif' font-size="11.48" text-anchor="middle" fill="#141414" transform="translate(542.8 146.4) scale(0.9 1)">150</text>
<line x1="564.5" y1="116.7" x2="564.5" y2="150.4" stroke="#141414" stroke-width="0.65"/>
<line x1="511.4" y1="163" x2="574.9" y2="163" stroke="#141414" stroke-width="0.65"/>
<polygon points="511.4,163 518.8,161.65 518.8,164.35" fill="#141414"/>
<polygon points="574.9,163 567.5,161.65 567.5,164.35" fill="#141414"/>
<text x="0" y="0.4" font-family='"Liberation Serif", "Noto Serif CJK SC", serif' font-size="11.48" text-anchor="middle" fill="#141414" transform="translate(543.2 160.7) scale(0.9 1)">213</text>
<line x1="574.9" y1="116.7" x2="574.9" y2="164.6" stroke="#141414" stroke-width="0.65"/>
<g transform="translate(0.00 171.60)">
<line x1="34.31" y1="78.16" x2="41.26" y2="71.21" stroke="#222" stroke-width="0.6"/>
<line x1="34.98" y1="81.58" x2="44.68" y2="71.88" stroke="#222" stroke-width="0.6"/>
<line x1="36.73" y1="83.94" x2="47.04" y2="73.63" stroke="#222" stroke-width="0.6"/>
<line x1="39.33" y1="85.44" x2="48.54" y2="76.23" stroke="#222" stroke-width="0.6"/>
<line x1="43.26" y1="85.61" x2="48.71" y2="80.16" stroke="#222" stroke-width="0.6"/>
<circle cx="41.6" cy="78.5" r="7.8" fill="none" stroke="#141414" stroke-width="1.4"/>
<rect x="39.7" y="69.4" width="3.8" height="3.4" rx="0" fill="#fff" stroke="#141414" stroke-width="0.6"/>
<line x1="39.7" y1="69.4" x2="43.5" y2="69.4" stroke="#fff" stroke-width="0.9"/>
<line x1="25" y1="52" x2="72.5" y2="52" stroke="#141414" stroke-width="0.65"/>
<polygon points="39.7,52 32.3,50.65 32.3,53.35" fill="#141414"/>
<polygon points="43.5,52 50.9,50.65 50.9,53.35" fill="#141414"/>
<line x1="39.7" y1="49" x2="39.7" y2="70.6" stroke="#141414" stroke-width="0.65"/>
<line x1="43.5" y1="49" x2="43.5" y2="70.6" stroke="#141414" stroke-width="0.65"/>
<text x="0" y="0.4" font-family='"Liberation Serif", "Noto Serif CJK SC", serif' font-size="11.48" text-anchor="middle" fill="#141414" transform="translate(65 49.6) scale(0.9 1)">10</text>
<line x1="20.8" y1="55" x2="20.8" y2="100" stroke="#141414" stroke-width="0.65"/>
<polygon points="20.8,69.6 19.45,62.2 22.15,62.2" fill="#141414"/>
<polygon points="20.8,86.7 19.45,94.1 22.15,94.1" fill="#141414"/>
<line x1="19" y1="69.6" x2="40.5" y2="69.6" stroke="#141414" stroke-width="0.65"/>
<line x1="19" y1="86.7" x2="42" y2="86.7" stroke="#141414" stroke-width="0.65"/>
<text x="0" y="0.4" font-family='"Liberation Serif", "Noto Serif CJK SC", serif' font-size="11.48" text-anchor="middle" fill="#141414" transform="translate(18.2 78.2) rotate(-90) scale(0.9 1)">38</text>
<line x1="31.5" y1="78.5" x2="52.5" y2="78.5" stroke="#444" stroke-width="0.4" stroke-dasharray="5 1.2 1 1.2"/>
<line x1="41.6" y1="72.8" x2="41.6" y2="89" stroke="#444" stroke-width="0.4" stroke-dasharray="5 1.2 1 1.2"/>
<path d="M207.6,73.4 H186.5 L185.6,74.3 V83 L186.5,83.9 H207.6" fill="none" stroke="#141414" stroke-width="1.45" stroke-linejoin="round"/>
<line x1="186.8" y1="73.4" x2="186.8" y2="83.9" stroke="#141414" stroke-width="0.65"/>
<line x1="182.1" y1="78.7" x2="268" y2="78.7" stroke="#141414" stroke-width="0.45" stroke-dasharray="7 1.5 1.2 1.5"/>
<path d="M221.2,59.8 V54.9 H247.6 L249.6,57.6" fill="none" stroke="#141414" stroke-width="1.45" stroke-linejoin="round"/>
<path d="M250.2,55.4 H265.2 V61.1 H269.8" fill="none" stroke="#141414" stroke-width="1.45" stroke-linejoin="round"/>
<line x1="224.8" y1="58" x2="248.6" y2="58" stroke="#141414" stroke-width="0.65"/>
<line x1="223.1" y1="55" x2="223.1" y2="108" stroke="#141414" stroke-width="0.65"/>
<line x1="224.8" y1="55" x2="224.8" y2="108" stroke="#141414" stroke-width="0.65"/>
<line x1="221.3" y1="68.2" x2="243.2" y2="68.2" stroke="#141414" stroke-width="1.7"/>
<line x1="221.3" y1="78.6" x2="243.2" y2="78.6" stroke="#141414" stroke-width="1.7"/>
<line x1="221.3" y1="89" x2="243.2" y2="89" stroke="#141414" stroke-width="1.7"/>
<line x1="221.3" y1="99.4" x2="243.2" y2="99.4" stroke="#141414" stroke-width="1.7"/>
<line x1="243.8" y1="58" x2="243.8" y2="109.2" stroke="#141414" stroke-width="1.45"/>
<line x1="243.8" y1="66.4" x2="264.3" y2="66.4" stroke="#141414" stroke-width="0.95"/>
<line x1="250.4" y1="55.4" x2="250.4" y2="116" stroke="#141414" stroke-width="0.95"/>
<line x1="252.2" y1="55.4" x2="252.2" y2="116" stroke="#141414" stroke-width="0.65"/>
<line x1="261.5" y1="55.4" x2="261.5" y2="108" stroke="#141414" stroke-width="0.65"/>
<line x1="264.3" y1="55.4" x2="264.3" y2="108" stroke="#141414" stroke-width="0.65"/>
<circle cx="226.6" cy="95.7" r="1.4" fill="#141414" stroke="#141414" stroke-width="0.9"/>
<line x1="223.8" y1="95.7" x2="229.8" y2="95.7" stroke="#141414" stroke-width="0.6"/>
<line x1="226.6" y1="93" x2="226.6" y2="98.4" stroke="#141414" stroke-width="0.6"/>
<circle cx="257.3" cy="50.4" r="3.6" fill="none" stroke="#141414" stroke-width="1.9"/>
<line x1="255.5" y1="53.6" x2="255.5" y2="55.2" stroke="#141414" stroke-width="0.7"/>
<line x1="259.1" y1="53.6" x2="259.1" y2="55.2" stroke="#141414" stroke-width="0.7"/>
<line x1="259.2" y1="66.6" x2="259.2" y2="115.6" stroke="#141414" stroke-width="0.65"/>
<polygon points="259.2,78.4 257.9,72.6 260.5,72.6" fill="#141414"/>
<polygon points="259.2,84.8 257.9,90.6 260.5,90.6" fill="#141414"/>
<line x1="256.2" y1="84.5" x2="270" y2="84.5" stroke="#141414" stroke-width="0.65"/>
<text x="0" y="0.4" font-family='"Liberation Serif", "Noto Serif CJK SC", serif' font-size="11.48" text-anchor="middle" fill="#141414" transform="translate(258 106) rotate(-90) scale(0.9 1)" textLength="15.56" lengthAdjust="spacingAndGlyphs">20.7</text>
<path d="M203.5,59.7 H205.5 V49.2 H209.3 V59.7" fill="none" stroke="#141414" stroke-width="1.45" stroke-linejoin="round"/>
<path d="M203.5,59.7 V63.3 Q203.8,66.6 208.5,70.9" fill="none" stroke="#141414" stroke-width="1.45" stroke-linejoin="round"/>
<path d="M209.3,59.7 Q210.2,66 209.8,71.1" fill="none" stroke="#141414" stroke-width="0.95" stroke-linejoin="round"/>
<path d="M209.3,59.7 L221,58.6" fill="none" stroke="#141414" stroke-width="1.45" stroke-linejoin="round"/>
<line x1="209.9" y1="68.9" x2="221.3" y2="68.4" stroke="#141414" stroke-width="0.65"/>
<path d="M203.5,97.7 H205.5 V108.2 H209.3 V97.7" fill="none" stroke="#141414" stroke-width="1.45" stroke-linejoin="round"/>
<path d="M203.5,97.7 V94.1 Q203.8,90.8 208.5,86.5" fill="none" stroke="#141414" stroke-width="1.45" stroke-linejoin="round"/>
<path d="M209.3,97.7 Q210.2,91.4 209.8,86.3" fill="none" stroke="#141414" stroke-width="0.95" stroke-linejoin="round"/>
<path d="M209.3,97.7 L221,98.8" fill="none" stroke="#141414" stroke-width="1.45" stroke-linejoin="round"/>
<line x1="209.9" y1="88.5" x2="221.3" y2="89" stroke="#141414" stroke-width="0.65"/>
<line x1="209.8" y1="93.9" x2="221" y2="93.9" stroke="#141414" stroke-width="0.95"/>
<path d="M205.5,73.4 V71.7 Q205.5,71.1 206.1,71.1 H209.3 Q209.9,71.1 209.9,71.7 V85.7 Q209.9,86.3 209.3,86.3 H206.1 Q205.5,86.3 205.5,85.7 V83.9" fill="none" stroke="#141414" stroke-width="1.45" stroke-linejoin="round"/>
<line x1="205.5" y1="73.4" x2="205.5" y2="83.9" stroke="#141414" stroke-width="0.65"/>
<path d="M221.2,59.8 V106.6 L222.6,109.2 H243.8 V115.6 Q243.8,116.8 245,116.8 H264 Q265.2,116.8 265.2,115.6 V61.1" fill="none" stroke="#141414" stroke-width="1.45" stroke-linejoin="round"/>
<path d="M269.8,61.1 V98.6 H265.2" fill="none" stroke="#141414" stroke-width="1.45" stroke-linejoin="round"/>
<line x1="222" y1="102.8" x2="244" y2="102.8" stroke="#141414" stroke-width="0.65"/>
<line x1="222" y1="106" x2="244" y2="106" stroke="#141414" stroke-width="0.65"/>
<path d="M269.8,70.6 H274.6 Q276.7,70.4 276.9,68.2 L278.6,63.6 H319.4" fill="none" stroke="#141414" stroke-width="1.45" stroke-linejoin="round"/>
<path d="M269.8,99.2 H274.6 Q276.7,99.4 276.9,101.6 L278.6,105.2 H319.4" fill="none" stroke="#141414" stroke-width="1.45" stroke-linejoin="round"/>
<line x1="270.6" y1="70.6" x2="270.6" y2="99.2" stroke="#141414" stroke-width="0.95"/>
<line x1="276.9" y1="68.2" x2="276.9" y2="101.6" stroke="#141414" stroke-width="0.95"/>
<line x1="281.6" y1="63.8" x2="281.6" y2="105" stroke="#141414" stroke-width="0.95"/>
<rect x="278.8" y="64.3" width="2.4" height="2.2" rx="0" fill="none" stroke="#141414" stroke-width="0.5"/>
<rect x="278.8" y="102.3" width="2.4" height="2.2" rx="0" fill="none" stroke="#141414" stroke-width="0.5"/>
<line x1="281.6" y1="66" x2="319.4" y2="66" stroke="#141414" stroke-width="0.65"/>
<line x1="281.6" y1="103.1" x2="319.4" y2="103.1" stroke="#141414" stroke-width="0.65"/>
<path d="M319.4,62.4 H344.4 Q349.4,62.6 349.4,67.6 V102 Q349.4,106.9 344.4,107.1 H319.4 Z" fill="none" stroke="#141414" stroke-width="1.45" stroke-linejoin="round"/>
<line x1="341.3" y1="62.6" x2="341.3" y2="107" stroke="#141414" stroke-width="0.65"/>
<line x1="319.4" y1="70.7" x2="341.3" y2="70.7" stroke="#141414" stroke-width="0.65"/>
<line x1="319.4" y1="97.9" x2="341.3" y2="97.9" stroke="#141414" stroke-width="0.65"/>
<rect x="283.3" y="72.3" width="25.4" height="25.4" rx="0" fill="none" stroke="#141414" stroke-width="0.8"/>
<rect x="284.4" y="73.1" width="23.2" height="3" rx="0.8" fill="none" stroke="#141414" stroke-width="0.5"/>
<rect x="284.4" y="93.9" width="23.2" height="3" rx="0.8" fill="none" stroke="#141414" stroke-width="0.5"/>
<line x1="283.8" y1="76.9" x2="308.2" y2="76.9" stroke="#333" stroke-width="0.5"/>
<line x1="283.8" y1="78" x2="308.2" y2="78" stroke="#333" stroke-width="0.5"/>
<line x1="283.8" y1="79.1" x2="308.2" y2="79.1" stroke="#333" stroke-width="0.5"/>
<line x1="283.8" y1="80.2" x2="308.2" y2="80.2" stroke="#333" stroke-width="0.5"/>
<line x1="283.8" y1="81.3" x2="308.2" y2="81.3" stroke="#333" stroke-width="0.5"/>
<line x1="283.8" y1="82.3" x2="308.2" y2="82.3" stroke="#333" stroke-width="0.5"/>
<line x1="283.8" y1="87.2" x2="308.2" y2="87.2" stroke="#333" stroke-width="0.5"/>
<line x1="283.8" y1="88.3" x2="308.2" y2="88.3" stroke="#333" stroke-width="0.5"/>
<line x1="283.8" y1="89.4" x2="308.2" y2="89.4" stroke="#333" stroke-width="0.5"/>
<line x1="283.8" y1="90.5" x2="308.2" y2="90.5" stroke="#333" stroke-width="0.5"/>
<line x1="283.8" y1="91.6" x2="308.2" y2="91.6" stroke="#333" stroke-width="0.5"/>
<line x1="283.8" y1="92.7" x2="308.2" y2="92.7" stroke="#333" stroke-width="0.5"/>
<circle cx="285.6" cy="74.6" r="0.8" fill="none" stroke="#141414" stroke-width="0.4"/>
<circle cx="306.4" cy="74.6" r="0.8" fill="none" stroke="#141414" stroke-width="0.4"/>
<circle cx="285.6" cy="95.4" r="0.8" fill="none" stroke="#141414" stroke-width="0.4"/>
<circle cx="306.4" cy="95.4" r="0.8" fill="none" stroke="#141414" stroke-width="0.4"/>
<line x1="308.7" y1="73.9" x2="319.4" y2="73.9" stroke="#141414" stroke-width="0.65"/>
<line x1="308.7" y1="76.3" x2="319.4" y2="76.3" stroke="#141414" stroke-width="0.65"/>
<line x1="308.7" y1="81.1" x2="319.4" y2="81.1" stroke="#141414" stroke-width="0.65"/>
<line x1="308.7" y1="87.6" x2="319.4" y2="87.6" stroke="#141414" stroke-width="0.65"/>
<line x1="308.7" y1="93" x2="319.4" y2="93" stroke="#141414" stroke-width="0.65"/>
<line x1="308.7" y1="96.2" x2="319.4" y2="96.2" stroke="#141414" stroke-width="0.65"/>
<line x1="311.5" y1="81.1" x2="311.5" y2="87.6" stroke="#141414" stroke-width="0.65"/>
<rect x="277.4" y="82.6" width="4.6" height="4" rx="0" fill="#fff" stroke="#141414" stroke-width="0.7"/>
<rect x="314.9" y="82.8" width="3.4" height="3.6" rx="0" fill="#555" stroke="#141414" stroke-width="0.6"/>
<line x1="256.5" y1="84.5" x2="353" y2="84.5" stroke="#141414" stroke-width="0.45" stroke-dasharray="7 1.5 1.2 1.5"/>
<line x1="185.4" y1="26.4" x2="267.6" y2="26.4" stroke="#141414" stroke-width="0.65"/>
<polygon points="185.4,26.4 192.8,25.05 192.8,27.75" fill="#141414"/>
<polygon points="267.6,26.4 260.2,25.05 260.2,27.75" fill="#141414"/>
<line x1="267.6" y1="26.4" x2="349.1" y2="26.4" stroke="#141414" stroke-width="0.65"/>
<polygon points="267.6,26.4 275,25.05 275,27.75" fill="#141414"/>
<polygon points="349.1,26.4 341.7,25.05 341.7,27.75" fill="#141414"/>
<text x="0" y="0.4" font-family='"Liberation Serif", "Noto Serif CJK SC", serif' font-size="11.48" text-anchor="middle" fill="#141414" transform="translate(226.6 24.5) scale(0.9 1)">280</text>
<text x="0" y="0.4" font-family='"Liberation Serif", "Noto Serif CJK SC", serif' font-size="11.48" text-anchor="middle" fill="#141414" transform="translate(307.9 24.5) scale(0.9 1)">L</text>
<line x1="185.4" y1="24.2" x2="185.4" y2="84" stroke="#141414" stroke-width="0.65"/>
<line x1="267.6" y1="24.2" x2="267.6" y2="62" stroke="#141414" stroke-width="0.65"/>
<line x1="349.1" y1="24.2" x2="349.1" y2="62.4" stroke="#141414" stroke-width="0.65"/>
<line x1="349.4" y1="62.4" x2="370" y2="62.4" stroke="#141414" stroke-width="0.65"/>
<line x1="346" y1="106.6" x2="370" y2="106.6" stroke="#141414" stroke-width="0.65"/>
<line x1="367.3" y1="62.4" x2="367.3" y2="106.6" stroke="#141414" stroke-width="0.65"/>
<polygon points="367.3,62.4 365.95,69.8 368.65,69.8" fill="#141414"/>
<polygon points="367.3,106.6 365.95,99.2 368.65,99.2" fill="#141414"/>
<text x="0" y="0.4" font-family='"Liberation Serif", "Noto Serif CJK SC", serif' font-size="11.48" text-anchor="middle" fill="#141414" transform="translate(365 84.5) rotate(-90) scale(0.9 1)">AC</text>
<line x1="185.4" y1="42.3" x2="205.6" y2="42.3" stroke="#141414" stroke-width="0.65"/>
<polygon points="185.4,42.3 192.8,40.95 192.8,43.65" fill="#141414"/>
<polygon points="205.6,42.3 198.2,40.95 198.2,43.65" fill="#141414"/>
<text x="0" y="0.4" font-family='"Liberation Serif", "Noto Serif CJK SC", serif' font-size="11.48" text-anchor="middle" fill="#141414" transform="translate(195.6 40) scale(0.9 1)">70</text>
<line x1="205.6" y1="39.6" x2="205.6" y2="49.2" stroke="#141414" stroke-width="0.65"/>
<line x1="172.7" y1="28.5" x2="172.7" y2="99" stroke="#141414" stroke-width="0.65"/>
<polygon points="172.7,73.4 171.35,66 174.05,66" fill="#141414"/>
<polygon points="172.7,83.9 171.35,91.3 174.05,91.3" fill="#141414"/>
<line x1="170.6" y1="73.4" x2="186" y2="73.4" stroke="#141414" stroke-width="0.65"/>
<line x1="170.6" y1="83.9" x2="186" y2="83.9" stroke="#141414" stroke-width="0.65"/>
<text x="0" y="0.4" font-family='"Liberation Serif", "Noto Serif CJK SC", serif' font-size="11.82" text-anchor="start" fill="#141414" transform="translate(171 57.2) rotate(-90) scale(0.9 1)" textLength="20.67" lengthAdjust="spacingAndGlyphs">Ø35</text>
<text x="0" y="0.4" font-family='"Liberation Serif", "Noto Serif CJK SC", serif' font-size="6.47" text-anchor="start" fill="#141414" transform="translate(171 38) rotate(-90) scale(0.9 1)" textLength="8" lengthAdjust="spacingAndGlyphs">k6</text>
<text x="0" y="0.4" font-family='"Liberation Serif", "Noto Serif CJK SC", serif' font-size="11.6" fill="#141414" transform="translate(138.4 116.2) scale(0.9 1)"><tspan textLength="21.8" lengthAdjust="spacingAndGlyphs">M12</tspan><tspan x="22.5" dy="-0.4" font-size="10.7" fill="#333">深</tspan><tspan x="33.9" dy="0.4" textLength="11.7" lengthAdjust="spacingAndGlyphs">35</tspan></text>
<line x1="134.2" y1="117.9" x2="180.7" y2="117.9" stroke="#141414" stroke-width="0.65"/>
<text x="0" y="0.4" font-family='"Liberation Serif", "Noto Serif CJK SC", serif' font-size="11.6" text-anchor="start" fill="#141414" transform="translate(136.4 126.2) scale(0.9 1)" textLength="47.78" lengthAdjust="spacingAndGlyphs">GB/T 145</text>
<text x="0" y="0.4" font-family='"Liberation Serif", "Noto Serif CJK SC", serif' font-size="11.6" text-anchor="start" fill="#141414" transform="translate(136.4 138) scale(0.9 1)" textLength="42.22" lengthAdjust="spacingAndGlyphs">DIN 332</text>
<line x1="180.7" y1="117.9" x2="180.7" y2="84" stroke="#141414" stroke-width="0.65"/>
<line x1="180.7" y1="84" x2="184.2" y2="77.6" stroke="#141414" stroke-width="0.65"/>
<path d="M185.2,76 L183.4,77.7 L185.2,79.2" fill="none" stroke="#141414" stroke-width="0.5" stroke-linejoin="round"/>
</g>
<path d="M574.7,243.3 H582.9 Q587.5,256.4 582.9,269.4 H574.7" fill="none" stroke="#141414" stroke-width="1" stroke-linejoin="round"/>
<line x1="576.9" y1="243.3" x2="576.9" y2="269.4" stroke="#141414" stroke-width="0.65"/>
<line x1="582.5" y1="244.3" x2="582.5" y2="268.4" stroke="#141414" stroke-width="0.65"/>
<rect x="580.7" y="265.9" width="1.6" height="1.8" rx="0" fill="none" stroke="#141414" stroke-width="0.4"/>
<line x1="571.7" y1="256.4" x2="589.2" y2="256.4" stroke="#141414" stroke-width="0.45" stroke-dasharray="5 1.2 1 1.2"/>
<path d="M515.4,226.4 H570.6 L574.7,236.4 V278.3 L565.6,288.8 H520.4 L511.3,278.3 V236.4 Z" fill="#fff" stroke="#141414" stroke-width="1.45" stroke-linejoin="round"/>
<path d="M515,271.6 L525.6,279.5 H560.8 L571,271.6" fill="none" stroke="#141414" stroke-width="0.65" stroke-linejoin="round"/>
<path d="M515.6,275.3 L523.6,281.7 H562.6 L570.4,275.3" fill="none" stroke="#141414" stroke-width="0.65" stroke-linejoin="round"/>
<line x1="515" y1="271.6" x2="515" y2="276.7" stroke="#141414" stroke-width="0.65"/>
<line x1="571" y1="271.6" x2="571" y2="276.7" stroke="#141414" stroke-width="0.65"/>
<path d="M516.6,228 L512.9,237.4" fill="none" stroke="#141414" stroke-width="0.65" stroke-linejoin="round"/>
<path d="M569.4,228 L573.1,237.4" fill="none" stroke="#141414" stroke-width="0.65" stroke-linejoin="round"/>
<line x1="516.6" y1="228" x2="569.4" y2="228" stroke="#141414" stroke-width="0.65"/>
<rect x="523.6" y="289.2" width="2.8" height="1" rx="0" fill="#141414" stroke="#141414" stroke-width="0.3"/>
<circle cx="543" cy="250.7" r="30" fill="#fff" stroke="#141414" stroke-width="1.55"/>
<circle cx="543" cy="250.7" r="25" fill="none" stroke="#141414" stroke-width="0.45" stroke-dasharray="7 1.5 1.2 1.5"/>
<circle cx="543" cy="250.7" r="19.4" fill="none" stroke="#141414" stroke-width="0.65"/>
<circle cx="543" cy="250.7" r="7.4" fill="none" stroke="#141414" stroke-width="0.95"/>
<circle cx="543" cy="250.7" r="4.8" fill="none" stroke="#141414" stroke-width="0.95"/>
<rect x="541.6" y="244.7" width="2.8" height="1.6" rx="0" fill="#fff" stroke="#141414" stroke-width="0.4"/>
<circle cx="525.32" cy="233.02" r="1.5" fill="#fff" stroke="#141414" stroke-width="0.6"/>
<circle cx="525.32" cy="268.38" r="1.5" fill="#fff" stroke="#141414" stroke-width="0.6"/>
<circle cx="560.68" cy="233.02" r="1.5" fill="#fff" stroke="#141414" stroke-width="0.6"/>
<circle cx="560.68" cy="268.38" r="1.5" fill="#fff" stroke="#141414" stroke-width="0.6"/>
<line x1="543" y1="203.4" x2="543" y2="291" stroke="#141414" stroke-width="0.45" stroke-dasharray="7 1.5 1.2 1.5"/>
<line x1="490" y1="250.7" x2="577" y2="250.7" stroke="#141414" stroke-width="0.45" stroke-dasharray="7 1.5 1.2 1.5"/>
<line x1="543" y1="205.6" x2="584.9" y2="205.6" stroke="#141414" stroke-width="0.65"/>
<polygon points="543,205.6 550.4,204.25 550.4,206.95" fill="#141414"/>
<polygon points="584.9,205.6 577.5,204.25 577.5,206.95" fill="#141414"/>
<text x="0" y="0.4" font-family='"Liberation Serif", "Noto Serif CJK SC", serif' font-size="11.48" text-anchor="middle" fill="#141414" transform="translate(564.4 203.4) scale(0.9 1)">AD</text>
<line x1="584.9" y1="203.4" x2="584.9" y2="244" stroke="#141414" stroke-width="0.65"/>
<line x1="543" y1="203.4" x2="543" y2="222" stroke="#141414" stroke-width="0.65"/>
<line x1="493.8" y1="250.7" x2="493.8" y2="289" stroke="#141414" stroke-width="0.65"/>
<polygon points="493.8,250.7 492.45,258.1 495.15,258.1" fill="#141414"/>
<polygon points="493.8,289 492.45,281.6 495.15,281.6" fill="#141414"/>
<line x1="490.5" y1="250.7" x2="513" y2="250.7" stroke="#141414" stroke-width="0.65"/>
<line x1="491.6" y1="289" x2="521.5" y2="289" stroke="#141414" stroke-width="0.65"/>
<text x="0" y="0.4" font-family='"Liberation Serif", "Noto Serif CJK SC", serif' font-size="11.48" text-anchor="middle" fill="#141414" transform="translate(491.6 270.4) rotate(-90) scale(0.9 1)">134</text>
<line x1="511.3" y1="309.4" x2="574.9" y2="309.4" stroke="#141414" stroke-width="0.65"/>
<polygon points="511.3,309.4 518.7,308.05 518.7,310.75" fill="#141414"/>
<polygon points="574.9,309.4 567.5,308.05 567.5,310.75" fill="#141414"/>
<text x="0" y="0.4" font-family='"Liberation Serif", "Noto Serif CJK SC", serif' font-size="11.48" text-anchor="middle" fill="#141414" transform="translate(543.4 307.2) scale(0.9 1)">215</text>
<line x1="511.3" y1="265" x2="511.3" y2="311.4" stroke="#141414" stroke-width="0.65"/>
<line x1="574.9" y1="270" x2="574.9" y2="311.4" stroke="#141414" stroke-width="0.65"/>
<g transform="translate(-144.40 327.50)">
<path d="M207.6,73.4 H187.5 L186.6,74.3 V83 L187.5,83.9 H207.6" fill="none" stroke="#141414" stroke-width="1.45" stroke-linejoin="round"/>
<line x1="187.8" y1="73.4" x2="187.8" y2="83.9" stroke="#141414" stroke-width="0.65"/>
<line x1="183.1" y1="78.7" x2="270.5" y2="78.7" stroke="#141414" stroke-width="0.45" stroke-dasharray="7 1.5 1.2 1.5"/>
<path d="M221.2,59.8 V54.9 H247.6 L249.6,57.6" fill="none" stroke="#141414" stroke-width="1.45" stroke-linejoin="round"/>
<path d="M250.2,55.4 H265.2 V61.1" fill="none" stroke="#141414" stroke-width="1.45" stroke-linejoin="round"/>
<path d="M265.2,60.8 H267.7 V107.2 H265.2" fill="none" stroke="#141414" stroke-width="0.95" stroke-linejoin="round"/>
<line x1="224.8" y1="58" x2="248.6" y2="58" stroke="#141414" stroke-width="0.65"/>
<line x1="223.1" y1="55" x2="223.1" y2="108" stroke="#141414" stroke-width="0.65"/>
<line x1="224.8" y1="55" x2="224.8" y2="108" stroke="#141414" stroke-width="0.65"/>
<line x1="221.3" y1="68.2" x2="243.2" y2="68.2" stroke="#141414" stroke-width="1.7"/>
<line x1="221.3" y1="78.6" x2="243.2" y2="78.6" stroke="#141414" stroke-width="1.7"/>
<line x1="221.3" y1="89" x2="243.2" y2="89" stroke="#141414" stroke-width="1.7"/>
<line x1="221.3" y1="99.4" x2="243.2" y2="99.4" stroke="#141414" stroke-width="1.7"/>
<line x1="243.8" y1="58" x2="243.8" y2="109.2" stroke="#141414" stroke-width="1.45"/>
<line x1="243.8" y1="66.4" x2="264.3" y2="66.4" stroke="#141414" stroke-width="0.95"/>
<line x1="250.4" y1="55.4" x2="250.4" y2="116" stroke="#141414" stroke-width="0.95"/>
<line x1="252.2" y1="55.4" x2="252.2" y2="116" stroke="#141414" stroke-width="0.65"/>
<line x1="261.5" y1="55.4" x2="261.5" y2="108" stroke="#141414" stroke-width="0.65"/>
<line x1="264.3" y1="55.4" x2="264.3" y2="108" stroke="#141414" stroke-width="0.65"/>
<circle cx="226.6" cy="95.7" r="1.4" fill="#141414" stroke="#141414" stroke-width="0.9"/>
<line x1="223.8" y1="95.7" x2="229.8" y2="95.7" stroke="#141414" stroke-width="0.6"/>
<line x1="226.6" y1="93" x2="226.6" y2="98.4" stroke="#141414" stroke-width="0.6"/>
<circle cx="257.3" cy="50.4" r="3.6" fill="none" stroke="#141414" stroke-width="1.9"/>
<line x1="255.5" y1="53.6" x2="255.5" y2="55.2" stroke="#141414" stroke-width="0.7"/>
<line x1="259.1" y1="53.6" x2="259.1" y2="55.2" stroke="#141414" stroke-width="0.7"/>
<path d="M203.8,59.7 H205.8 V49.4 H209.3 V59.7" fill="none" stroke="#141414" stroke-width="1.45" stroke-linejoin="round"/>
<path d="M203.8,59.7 V63.3 Q204.1,66.6 208.5,70.9" fill="none" stroke="#141414" stroke-width="1.45" stroke-linejoin="round"/>
<path d="M209.3,59.7 Q210.2,66 209.8,71.1" fill="none" stroke="#141414" stroke-width="0.95" stroke-linejoin="round"/>
<path d="M209.3,59.7 L221,58.6" fill="none" stroke="#141414" stroke-width="1.45" stroke-linejoin="round"/>
<line x1="209.9" y1="68.9" x2="221.3" y2="68.4" stroke="#141414" stroke-width="0.65"/>
<path d="M203.8,97.7 H205.8 V107.7 H209.3 V97.7" fill="none" stroke="#141414" stroke-width="1.45" stroke-linejoin="round"/>
<path d="M203.8,97.7 V94.1 Q204.1,90.8 208.5,86.5" fill="none" stroke="#141414" stroke-width="1.45" stroke-linejoin="round"/>
<path d="M209.3,97.7 Q210.2,91.4 209.8,86.3" fill="none" stroke="#141414" stroke-width="0.95" stroke-linejoin="round"/>
<path d="M209.3,97.7 L221,98.8" fill="none" stroke="#141414" stroke-width="1.45" stroke-linejoin="round"/>
<line x1="209.9" y1="88.5" x2="221.3" y2="89" stroke="#141414" stroke-width="0.65"/>
<line x1="209.8" y1="93.9" x2="221" y2="93.9" stroke="#141414" stroke-width="0.95"/>
<path d="M205.8,73.4 V71.7 Q205.8,71.1 206.4,71.1 H209.3 Q209.9,71.1 209.9,71.7 V85.7 Q209.9,86.3 209.3,86.3 H206.4 Q205.8,86.3 205.8,85.7 V83.9" fill="none" stroke="#141414" stroke-width="1.45" stroke-linejoin="round"/>
<line x1="205.8" y1="73.4" x2="205.8" y2="83.9" stroke="#141414" stroke-width="0.65"/>
<path d="M221.2,59.8 V106.6 L222.6,109.2 H243.8 V115.6 Q243.8,116.8 245,116.8 H264 Q265.2,116.8 265.2,115.6 V61.1" fill="none" stroke="#141414" stroke-width="1.45" stroke-linejoin="round"/>
<line x1="222" y1="102.8" x2="244" y2="102.8" stroke="#141414" stroke-width="0.65"/>
<line x1="222" y1="106" x2="244" y2="106" stroke="#141414" stroke-width="0.65"/>
</g>
<line x1="21.7" y1="376.9" x2="21.7" y2="435.2" stroke="#141414" stroke-width="0.65"/>
<polygon points="21.7,376.9 20.35,384.3 23.05,384.3" fill="#141414"/>
<polygon points="21.7,435.2 20.35,427.8 23.05,427.8" fill="#141414"/>
<line x1="19.5" y1="376.9" x2="61.4" y2="376.9" stroke="#141414" stroke-width="0.65"/>
<line x1="19.5" y1="435.2" x2="61.4" y2="435.2" stroke="#141414" stroke-width="0.65"/>
<text x="0" y="0.4" font-family='"Liberation Serif", "Noto Serif CJK SC", serif' font-size="11.48" text-anchor="middle" fill="#141414" transform="translate(20 405.6) rotate(-90) scale(0.9 1)" textLength="25.78" lengthAdjust="spacingAndGlyphs">Ø200</text>
<line x1="35.6" y1="387.1" x2="35.6" y2="424.9" stroke="#141414" stroke-width="0.65"/>
<polygon points="35.6,387.1 34.25,394.5 36.95,394.5" fill="#141414"/>
<polygon points="35.6,424.9 34.25,417.5 36.95,417.5" fill="#141414"/>
<line x1="33.4" y1="387.1" x2="60.8" y2="387.1" stroke="#141414" stroke-width="0.65"/>
<line x1="33.4" y1="424.9" x2="60.8" y2="424.9" stroke="#141414" stroke-width="0.65"/>
<text x="0" y="0.4" font-family='"Liberation Serif", "Noto Serif CJK SC", serif' font-size="11.48" text-anchor="start" fill="#141414" transform="translate(33.6 419.8) rotate(-90) scale(0.9 1)" textLength="24.89" lengthAdjust="spacingAndGlyphs">Ø130</text>
<text x="0" y="0.4" font-family='"Liberation Serif", "Noto Serif CJK SC", serif' font-size="6.47" text-anchor="start" fill="#141414" transform="translate(34.6 397) rotate(-90) scale(0.9 1)" textLength="7.11" lengthAdjust="spacingAndGlyphs">j6</text>
<line x1="34" y1="345.1" x2="80" y2="345.1" stroke="#141414" stroke-width="0.65"/>
<polygon points="60.8,345.1 53.4,343.75 53.4,346.45" fill="#141414"/>
<polygon points="65,345.1 72.4,343.75 72.4,346.45" fill="#141414"/>
<text x="0" y="0.4" font-family='"Liberation Serif", "Noto Serif CJK SC", serif' font-size="11.48" text-anchor="middle" fill="#141414" transform="translate(40.1 343.4) scale(0.9 1)">12</text>
<line x1="29.2" y1="361.6" x2="76.1" y2="361.6" stroke="#141414" stroke-width="0.65"/>
<polygon points="60.8,361.6 53.4,360.25 53.4,362.95" fill="#141414"/>
<polygon points="62.6,361.6 70,360.25 70,362.95" fill="#141414"/>
<text x="0" y="0.4" font-family='"Liberation Serif", "Noto Serif CJK SC", serif' font-size="11.48" text-anchor="middle" fill="#141414" transform="translate(37.8 359.4) scale(0.9 1)">3.5</text>
<line x1="60.8" y1="342.8" x2="60.8" y2="376.9" stroke="#141414" stroke-width="0.65"/>
<line x1="62.6" y1="342.8" x2="62.6" y2="376.9" stroke="#141414" stroke-width="0.65"/>
<line x1="65" y1="342.8" x2="65" y2="376.9" stroke="#141414" stroke-width="0.65"/>
<path d="M187.9,381.9 H243.1 L247.2,391.9 V433.8 L238.1,444.3 H192.9 L183.8,433.8 V391.9 Z" fill="#fff" stroke="#141414" stroke-width="1.45" stroke-linejoin="round"/>
<path d="M187.5,427.1 L198.1,435 H233.3 L243.5,427.1" fill="none" stroke="#141414" stroke-width="0.65" stroke-linejoin="round"/>
<path d="M188.1,430.8 L196.1,437.2 H235.1 L242.9,430.8" fill="none" stroke="#141414" stroke-width="0.65" stroke-linejoin="round"/>
<line x1="187.5" y1="427.1" x2="187.5" y2="432.2" stroke="#141414" stroke-width="0.65"/>
<line x1="243.5" y1="427.1" x2="243.5" y2="432.2" stroke="#141414" stroke-width="0.65"/>
<path d="M189.1,383.5 L185.4,392.9" fill="none" stroke="#141414" stroke-width="0.65" stroke-linejoin="round"/>
<path d="M241.9,383.5 L245.6,392.9" fill="none" stroke="#141414" stroke-width="0.65" stroke-linejoin="round"/>
<line x1="189.1" y1="383.5" x2="241.9" y2="383.5" stroke="#141414" stroke-width="0.65"/>
<rect x="196.1" y="444.7" width="2.8" height="1" rx="0" fill="#141414" stroke="#141414" stroke-width="0.3"/>
<circle cx="215.5" cy="406.2" r="30" fill="#fff" stroke="#141414" stroke-width="1.55"/>
<circle cx="215.5" cy="406.2" r="24.6" fill="none" stroke="#141414" stroke-width="0.45" stroke-dasharray="7 1.5 1.2 1.5"/>
<circle cx="215.5" cy="406.2" r="19.3" fill="none" stroke="#141414" stroke-width="0.65"/>
<circle cx="215.5" cy="406.2" r="7.4" fill="none" stroke="#141414" stroke-width="0.95"/>
<circle cx="215.5" cy="406.2" r="4.8" fill="none" stroke="#141414" stroke-width="0.95"/>
<rect x="214.1" y="400.2" width="2.8" height="1.6" rx="0" fill="#fff" stroke="#141414" stroke-width="0.4"/>
<circle cx="198.11" cy="388.81" r="1.5" fill="#fff" stroke="#141414" stroke-width="0.6"/>
<circle cx="198.11" cy="423.59" r="1.5" fill="#fff" stroke="#141414" stroke-width="0.6"/>
<circle cx="232.89" cy="388.81" r="1.5" fill="#fff" stroke="#141414" stroke-width="0.6"/>
<circle cx="232.89" cy="423.59" r="1.5" fill="#fff" stroke="#141414" stroke-width="0.6"/>
<line x1="215.5" y1="375.4" x2="215.5" y2="439.5" stroke="#141414" stroke-width="0.45" stroke-dasharray="7 1.5 1.2 1.5"/>
<line x1="181.3" y1="406.2" x2="249.7" y2="406.2" stroke="#141414" stroke-width="0.45" stroke-dasharray="7 1.5 1.2 1.5"/>
<line x1="181.3" y1="364.4" x2="243.6" y2="364.4" stroke="#141414" stroke-width="0.65"/>
<polygon points="195.7,364.4 188.3,363.05 188.3,365.75" fill="#141414"/>
<polygon points="198.9,364.4 206.3,363.05 206.3,365.75" fill="#141414"/>
<line x1="195.7" y1="362.4" x2="195.7" y2="388" stroke="#141414" stroke-width="0.65"/>
<line x1="198.9" y1="362.4" x2="198.9" y2="388" stroke="#141414" stroke-width="0.65"/>
<text x="0" y="0.4" font-family='"Liberation Serif", "Noto Serif CJK SC", serif' font-size="11.48" text-anchor="middle" fill="#141414" transform="translate(229.2 362.3) scale(0.9 1)" textLength="28.44" lengthAdjust="spacingAndGlyphs">4-Ø11</text>
<text x="0" y="0.4" font-family='"Liberation Serif", "Noto Serif CJK SC", serif' font-size="11.48" text-anchor="start" fill="#141414" transform="translate(160.6 382.3) scale(0.9 1)" textLength="25.33" lengthAdjust="spacingAndGlyphs">Ø165</text>
<line x1="160.6" y1="383.4" x2="186.6" y2="383.4" stroke="#141414" stroke-width="0.65"/>
<line x1="186.6" y1="383.4" x2="244.6" y2="428.6" stroke="#141414" stroke-width="0.65"/>
<polygon points="196.1,391.08 189.78,387.8 191.37,385.75" fill="#141414"/>
<polygon points="234.9,421.32 241.22,424.6 239.63,426.65" fill="#141414"/>
<g transform="translate(183.50 327.40)">
<path d="M207.6,73.4 H186.7 L185.8,74.3 V83 L186.7,83.9 H207.6" fill="none" stroke="#141414" stroke-width="1.45" stroke-linejoin="round"/>
<line x1="187" y1="73.4" x2="187" y2="83.9" stroke="#141414" stroke-width="0.65"/>
<line x1="182.3" y1="78.7" x2="270.5" y2="78.7" stroke="#141414" stroke-width="0.45" stroke-dasharray="7 1.5 1.2 1.5"/>
<path d="M221.2,59.8 V54.9 H247.6 L249.6,57.6" fill="none" stroke="#141414" stroke-width="1.45" stroke-linejoin="round"/>
<path d="M250.2,55.4 H265.2 V61.1" fill="none" stroke="#141414" stroke-width="1.45" stroke-linejoin="round"/>
<path d="M265.2,60.8 H267.7 V107.2 H265.2" fill="none" stroke="#141414" stroke-width="0.95" stroke-linejoin="round"/>
<line x1="224.8" y1="58" x2="248.6" y2="58" stroke="#141414" stroke-width="0.65"/>
<line x1="223.1" y1="55" x2="223.1" y2="108" stroke="#141414" stroke-width="0.65"/>
<line x1="224.8" y1="55" x2="224.8" y2="108" stroke="#141414" stroke-width="0.65"/>
<line x1="221.3" y1="68.2" x2="243.2" y2="68.2" stroke="#141414" stroke-width="1.7"/>
<line x1="221.3" y1="78.6" x2="243.2" y2="78.6" stroke="#141414" stroke-width="1.7"/>
<line x1="221.3" y1="89" x2="243.2" y2="89" stroke="#141414" stroke-width="1.7"/>
<line x1="221.3" y1="99.4" x2="243.2" y2="99.4" stroke="#141414" stroke-width="1.7"/>
<line x1="243.8" y1="58" x2="243.8" y2="109.2" stroke="#141414" stroke-width="1.45"/>
<line x1="243.8" y1="66.4" x2="264.3" y2="66.4" stroke="#141414" stroke-width="0.95"/>
<line x1="250.4" y1="55.4" x2="250.4" y2="116" stroke="#141414" stroke-width="0.95"/>
<line x1="252.2" y1="55.4" x2="252.2" y2="116" stroke="#141414" stroke-width="0.65"/>
<line x1="261.5" y1="55.4" x2="261.5" y2="108" stroke="#141414" stroke-width="0.65"/>
<line x1="264.3" y1="55.4" x2="264.3" y2="108" stroke="#141414" stroke-width="0.65"/>
<circle cx="226.6" cy="95.7" r="1.4" fill="#141414" stroke="#141414" stroke-width="0.9"/>
<line x1="223.8" y1="95.7" x2="229.8" y2="95.7" stroke="#141414" stroke-width="0.6"/>
<line x1="226.6" y1="93" x2="226.6" y2="98.4" stroke="#141414" stroke-width="0.6"/>
<circle cx="257.3" cy="50.4" r="3.6" fill="none" stroke="#141414" stroke-width="1.9"/>
<line x1="255.5" y1="53.6" x2="255.5" y2="55.2" stroke="#141414" stroke-width="0.7"/>
<line x1="259.1" y1="53.6" x2="259.1" y2="55.2" stroke="#141414" stroke-width="0.7"/>
<path d="M203.5,52.2 H204.8 V42 H210.2 V59.7" fill="none" stroke="#141414" stroke-width="1.45" stroke-linejoin="round"/>
<path d="M203.5,52.2 V63.3 Q203.8,66.6 209.4,70.9" fill="none" stroke="#141414" stroke-width="1.45" stroke-linejoin="round"/>
<path d="M210.2,59.7 Q211.1,66 210.7,71.1" fill="none" stroke="#141414" stroke-width="0.95" stroke-linejoin="round"/>
<path d="M210.2,59.7 L221,58.6" fill="none" stroke="#141414" stroke-width="1.45" stroke-linejoin="round"/>
<line x1="210.8" y1="68.9" x2="221.3" y2="68.4" stroke="#141414" stroke-width="0.65"/>
<path d="M203.5,105.2 H204.8 V115.3 H210.2 V97.7" fill="none" stroke="#141414" stroke-width="1.45" stroke-linejoin="round"/>
<path d="M203.5,105.2 V94.1 Q203.8,90.8 209.4,86.5" fill="none" stroke="#141414" stroke-width="1.45" stroke-linejoin="round"/>
<path d="M210.2,97.7 Q211.1,91.4 210.7,86.3" fill="none" stroke="#141414" stroke-width="0.95" stroke-linejoin="round"/>
<path d="M210.2,97.7 L221,98.8" fill="none" stroke="#141414" stroke-width="1.45" stroke-linejoin="round"/>
<line x1="210.8" y1="88.5" x2="221.3" y2="89" stroke="#141414" stroke-width="0.65"/>
<line x1="210.7" y1="93.9" x2="221" y2="93.9" stroke="#141414" stroke-width="0.95"/>
<path d="M204.8,73.4 V71.7 Q204.8,71.1 205.4,71.1 H210.2 Q210.8,71.1 210.8,71.7 V85.7 Q210.8,86.3 210.2,86.3 H205.4 Q204.8,86.3 204.8,85.7 V83.9" fill="none" stroke="#141414" stroke-width="1.45" stroke-linejoin="round"/>
<line x1="204.8" y1="73.4" x2="204.8" y2="83.9" stroke="#141414" stroke-width="0.65"/>
<path d="M221.2,59.8 V106.6 L222.6,109.2 H243.8 V115.6 Q243.8,116.8 245,116.8 H264 Q265.2,116.8 265.2,115.6 V61.1" fill="none" stroke="#141414" stroke-width="1.45" stroke-linejoin="round"/>
<line x1="222" y1="102.8" x2="244" y2="102.8" stroke="#141414" stroke-width="0.65"/>
<line x1="222" y1="106" x2="244" y2="106" stroke="#141414" stroke-width="0.65"/>
</g>
<line x1="341.4" y1="369.4" x2="341.4" y2="442.7" stroke="#141414" stroke-width="0.65"/>
<polygon points="341.4,369.4 340.05,376.8 342.75,376.8" fill="#141414"/>
<polygon points="341.4,442.7 340.05,435.3 342.75,435.3" fill="#141414"/>
<line x1="339.2" y1="369.4" x2="388.3" y2="369.4" stroke="#141414" stroke-width="0.65"/>
<line x1="339.2" y1="442.7" x2="388.3" y2="442.7" stroke="#141414" stroke-width="0.65"/>
<text x="0" y="0.4" font-family='"Liberation Serif", "Noto Serif CJK SC", serif' font-size="11.48" text-anchor="middle" fill="#141414" transform="translate(339.8 405.6) rotate(-90) scale(0.9 1)" textLength="26" lengthAdjust="spacingAndGlyphs">Ø250</text>
<line x1="361.1" y1="379.8" x2="361.1" y2="433" stroke="#141414" stroke-width="0.65"/>
<polygon points="361.1,379.8 359.75,387.2 362.45,387.2" fill="#141414"/>
<polygon points="361.1,433 359.75,425.6 362.45,425.6" fill="#141414"/>
<line x1="359" y1="379.8" x2="387.2" y2="379.8" stroke="#141414" stroke-width="0.65"/>
<line x1="359" y1="433" x2="387.2" y2="433" stroke="#141414" stroke-width="0.65"/>
<text x="0" y="0.4" font-family='"Liberation Serif", "Noto Serif CJK SC", serif' font-size="11.48" text-anchor="start" fill="#141414" transform="translate(358.4 421.6) rotate(-90) scale(0.9 1)" textLength="25.56" lengthAdjust="spacingAndGlyphs">Ø180</text>
<text x="0" y="0.4" font-family='"Liberation Serif", "Noto Serif CJK SC", serif' font-size="6.47" text-anchor="start" fill="#141414" transform="translate(359.4 398) rotate(-90) scale(0.9 1)" textLength="7.11" lengthAdjust="spacingAndGlyphs">j6</text>
<line x1="361.2" y1="345.1" x2="408.4" y2="345.1" stroke="#141414" stroke-width="0.65"/>
<polygon points="388.3,345.1 380.9,343.75 380.9,346.45" fill="#141414"/>
<polygon points="393.8,345.1 401.2,343.75 401.2,346.45" fill="#141414"/>
<text x="0" y="0.4" font-family='"Liberation Serif", "Noto Serif CJK SC", serif' font-size="11.48" text-anchor="middle" fill="#141414" transform="translate(368.2 343.2) scale(0.9 1)">15</text>
<line x1="363.8" y1="359.2" x2="403.6" y2="359.2" stroke="#141414" stroke-width="0.65"/>
<polygon points="387,359.2 379.6,357.85 379.6,360.55" fill="#141414"/>
<polygon points="389.6,359.2 397,357.85 397,360.55" fill="#141414"/>
<text x="0" y="0.4" font-family='"Liberation Serif", "Noto Serif CJK SC", serif' font-size="11.48" text-anchor="middle" fill="#141414" transform="translate(368.2 356.6) scale(0.9 1)">4</text>
<line x1="387" y1="356.9" x2="387" y2="369.4" stroke="#141414" stroke-width="0.65"/>
<line x1="388.6" y1="342.8" x2="388.6" y2="369.4" stroke="#141414" stroke-width="0.65"/>
<line x1="389.8" y1="342.8" x2="389.8" y2="369.4" stroke="#141414" stroke-width="0.65"/>
<line x1="393.6" y1="342.8" x2="393.6" y2="369.4" stroke="#141414" stroke-width="0.65"/>
<path d="M513.2,381.7 H568.4 L572.5,391.7 V433.6 L563.4,444.1 H518.2 L509.1,433.6 V391.7 Z" fill="#fff" stroke="#141414" stroke-width="1.45" stroke-linejoin="round"/>
<path d="M512.8,426.9 L523.4,434.8 H558.6 L568.8,426.9" fill="none" stroke="#141414" stroke-width="0.65" stroke-linejoin="round"/>
<path d="M513.4,430.6 L521.4,437 H560.4 L568.2,430.6" fill="none" stroke="#141414" stroke-width="0.65" stroke-linejoin="round"/>
<line x1="512.8" y1="426.9" x2="512.8" y2="432" stroke="#141414" stroke-width="0.65"/>
<line x1="568.8" y1="426.9" x2="568.8" y2="432" stroke="#141414" stroke-width="0.65"/>
<path d="M514.4,383.3 L510.7,392.7" fill="none" stroke="#141414" stroke-width="0.65" stroke-linejoin="round"/>
<path d="M567.2,383.3 L570.9,392.7" fill="none" stroke="#141414" stroke-width="0.65" stroke-linejoin="round"/>
<line x1="514.4" y1="383.3" x2="567.2" y2="383.3" stroke="#141414" stroke-width="0.65"/>
<rect x="521.4" y="444.5" width="2.8" height="1" rx="0" fill="#141414" stroke="#141414" stroke-width="0.3"/>
<circle cx="540.8" cy="406" r="36.7" fill="#fff" stroke="#141414" stroke-width="1.55"/>
<circle cx="540.8" cy="406" r="31.2" fill="none" stroke="#141414" stroke-width="0.45" stroke-dasharray="7 1.5 1.2 1.5"/>
<circle cx="540.8" cy="406" r="26.6" fill="none" stroke="#141414" stroke-width="0.65"/>
<circle cx="540.8" cy="406" r="7.4" fill="none" stroke="#141414" stroke-width="0.95"/>
<circle cx="540.8" cy="406" r="4.8" fill="none" stroke="#141414" stroke-width="0.95"/>
<rect x="539.4" y="400" width="2.8" height="1.6" rx="0" fill="#fff" stroke="#141414" stroke-width="0.4"/>
<circle cx="518.74" cy="383.94" r="2" fill="#fff" stroke="#141414" stroke-width="0.6"/>
<circle cx="518.74" cy="428.06" r="2" fill="#fff" stroke="#141414" stroke-width="0.6"/>
<circle cx="562.86" cy="383.94" r="2" fill="#fff" stroke="#141414" stroke-width="0.6"/>
<circle cx="562.86" cy="428.06" r="2" fill="#fff" stroke="#141414" stroke-width="0.6"/>
<line x1="540.8" y1="368" x2="540.8" y2="440.4" stroke="#141414" stroke-width="0.45" stroke-dasharray="7 1.5 1.2 1.5"/>
<line x1="499.3" y1="406" x2="582" y2="406" stroke="#141414" stroke-width="0.45" stroke-dasharray="7 1.5 1.2 1.5"/>
<line x1="501.2" y1="360.2" x2="573.6" y2="360.2" stroke="#141414" stroke-width="0.65"/>
<polygon points="515.9,360.2 508.5,358.85 508.5,361.55" fill="#141414"/>
<polygon points="519.9,360.2 527.3,358.85 527.3,361.55" fill="#141414"/>
<line x1="515.9" y1="357.8" x2="515.9" y2="384.4" stroke="#141414" stroke-width="0.65"/>
<line x1="519.9" y1="357.8" x2="519.9" y2="384.4" stroke="#141414" stroke-width="0.65"/>
<text x="0" y="0.4" font-family='"Liberation Serif", "Noto Serif CJK SC", serif' font-size="11.48" text-anchor="middle" fill="#141414" transform="translate(554.6 357.8) scale(0.9 1)" textLength="38.22" lengthAdjust="spacingAndGlyphs">4-Ø13.5</text>
<text x="0" y="0.4" font-family='"Liberation Serif", "Noto Serif CJK SC", serif' font-size="11.48" text-anchor="start" fill="#141414" transform="translate(478.8 380.2) scale(0.9 1)" textLength="25.33" lengthAdjust="spacingAndGlyphs">Ø215</text>
<line x1="478.8" y1="381.7" x2="501.5" y2="381.7" stroke="#141414" stroke-width="0.65"/>
<line x1="501.5" y1="381.7" x2="580" y2="431.2" stroke="#141414" stroke-width="0.65"/>
<polygon points="514.41,389.36 507.79,386.72 509.18,384.53" fill="#141414"/>
<polygon points="567.19,422.64 573.81,425.28 572.42,427.47" fill="#141414"/>
<g transform="translate(0.00 467.40)">
<line x1="34.31" y1="78.16" x2="41.26" y2="71.21" stroke="#222" stroke-width="0.6"/>
<line x1="34.98" y1="81.58" x2="44.68" y2="71.88" stroke="#222" stroke-width="0.6"/>
<line x1="36.73" y1="83.94" x2="47.04" y2="73.63" stroke="#222" stroke-width="0.6"/>
<line x1="39.33" y1="85.44" x2="48.54" y2="76.23" stroke="#222" stroke-width="0.6"/>
<line x1="43.26" y1="85.61" x2="48.71" y2="80.16" stroke="#222" stroke-width="0.6"/>
<circle cx="41.6" cy="78.5" r="7.8" fill="none" stroke="#141414" stroke-width="1.4"/>
<rect x="39.7" y="69.4" width="3.8" height="3.4" rx="0" fill="#fff" stroke="#141414" stroke-width="0.6"/>
<line x1="39.7" y1="69.4" x2="43.5" y2="69.4" stroke="#fff" stroke-width="0.9"/>
<line x1="25" y1="52" x2="72.5" y2="52" stroke="#141414" stroke-width="0.65"/>
<polygon points="39.7,52 32.3,50.65 32.3,53.35" fill="#141414"/>
<polygon points="43.5,52 50.9,50.65 50.9,53.35" fill="#141414"/>
<line x1="39.7" y1="49" x2="39.7" y2="70.6" stroke="#141414" stroke-width="0.65"/>
<line x1="43.5" y1="49" x2="43.5" y2="70.6" stroke="#141414" stroke-width="0.65"/>
<text x="0" y="0.4" font-family='"Liberation Serif", "Noto Serif CJK SC", serif' font-size="11.48" text-anchor="middle" fill="#141414" transform="translate(65 49.6) scale(0.9 1)">10</text>
<line x1="20.8" y1="55" x2="20.8" y2="100" stroke="#141414" stroke-width="0.65"/>
<polygon points="20.8,69.6 19.45,62.2 22.15,62.2" fill="#141414"/>
<polygon points="20.8,86.7 19.45,94.1 22.15,94.1" fill="#141414"/>
<line x1="19" y1="69.6" x2="40.5" y2="69.6" stroke="#141414" stroke-width="0.65"/>
<line x1="19" y1="86.7" x2="42" y2="86.7" stroke="#141414" stroke-width="0.65"/>
<text x="0" y="0.4" font-family='"Liberation Serif", "Noto Serif CJK SC", serif' font-size="11.48" text-anchor="middle" fill="#141414" transform="translate(18.2 78.2) rotate(-90) scale(0.9 1)">38</text>
<line x1="31.5" y1="78.5" x2="52.5" y2="78.5" stroke="#444" stroke-width="0.4" stroke-dasharray="5 1.2 1 1.2"/>
<line x1="41.6" y1="72.8" x2="41.6" y2="89" stroke="#444" stroke-width="0.4" stroke-dasharray="5 1.2 1 1.2"/>
<path d="M207.6,73.4 H186.5 L185.6,74.3 V83 L186.5,83.9 H207.6" fill="none" stroke="#141414" stroke-width="1.45" stroke-linejoin="round"/>
<line x1="186.8" y1="73.4" x2="186.8" y2="83.9" stroke="#141414" stroke-width="0.65"/>
<line x1="182.1" y1="78.7" x2="268" y2="78.7" stroke="#141414" stroke-width="0.45" stroke-dasharray="7 1.5 1.2 1.5"/>
<path d="M221.2,59.8 V54.9 H247.6 L249.6,57.6" fill="none" stroke="#141414" stroke-width="1.45" stroke-linejoin="round"/>
<path d="M250.2,55.4 H265.2 V61.1 H269.8" fill="none" stroke="#141414" stroke-width="1.45" stroke-linejoin="round"/>
<line x1="224.8" y1="58" x2="248.6" y2="58" stroke="#141414" stroke-width="0.65"/>
<line x1="223.1" y1="55" x2="223.1" y2="108" stroke="#141414" stroke-width="0.65"/>
<line x1="224.8" y1="55" x2="224.8" y2="108" stroke="#141414" stroke-width="0.65"/>
<line x1="221.3" y1="68.2" x2="240.4" y2="68.2" stroke="#141414" stroke-width="1.7"/>
<line x1="221.3" y1="78.6" x2="240.4" y2="78.6" stroke="#141414" stroke-width="1.7"/>
<line x1="221.3" y1="89" x2="240.4" y2="89" stroke="#141414" stroke-width="1.7"/>
<line x1="221.3" y1="99.4" x2="240.4" y2="99.4" stroke="#141414" stroke-width="1.7"/>
<line x1="240.4" y1="59.2" x2="240.4" y2="108" stroke="#141414" stroke-width="0.95"/>
<line x1="240.4" y1="59.2" x2="244" y2="66.1" stroke="#141414" stroke-width="0.65"/>
<line x1="244" y1="66.1" x2="244" y2="108" stroke="#141414" stroke-width="0.65"/>
<line x1="244" y1="66.1" x2="264.3" y2="66.1" stroke="#141414" stroke-width="0.65"/>
<line x1="250.4" y1="55.4" x2="250.4" y2="116" stroke="#141414" stroke-width="0.95"/>
<line x1="252.2" y1="55.4" x2="252.2" y2="116" stroke="#141414" stroke-width="0.65"/>
<line x1="261.5" y1="55.4" x2="261.5" y2="108" stroke="#141414" stroke-width="0.65"/>
<line x1="264.3" y1="55.4" x2="264.3" y2="108" stroke="#141414" stroke-width="0.65"/>
<circle cx="226.6" cy="95.7" r="1.4" fill="#141414" stroke="#141414" stroke-width="0.9"/>
<line x1="223.8" y1="95.7" x2="229.8" y2="95.7" stroke="#141414" stroke-width="0.6"/>
<line x1="226.6" y1="93" x2="226.6" y2="98.4" stroke="#141414" stroke-width="0.6"/>
<circle cx="257.3" cy="50.4" r="3.6" fill="none" stroke="#141414" stroke-width="1.9"/>
<line x1="255.5" y1="53.6" x2="255.5" y2="55.2" stroke="#141414" stroke-width="0.7"/>
<line x1="259.1" y1="53.6" x2="259.1" y2="55.2" stroke="#141414" stroke-width="0.7"/>
<line x1="259.2" y1="66.6" x2="259.2" y2="115.6" stroke="#141414" stroke-width="0.65"/>
<polygon points="259.2,78.4 257.9,72.6 260.5,72.6" fill="#141414"/>
<polygon points="259.2,84.8 257.9,90.6 260.5,90.6" fill="#141414"/>
<line x1="256.2" y1="84.5" x2="270" y2="84.5" stroke="#141414" stroke-width="0.65"/>
<text x="0" y="0.4" font-family='"Liberation Serif", "Noto Serif CJK SC", serif' font-size="11.48" text-anchor="middle" fill="#141414" transform="translate(258 106) rotate(-90) scale(0.9 1)" textLength="15.56" lengthAdjust="spacingAndGlyphs">20.7</text>
<path d="M203.4,59.7 H205.4 V49.4 H209.4 V59.7" fill="none" stroke="#141414" stroke-width="1.45" stroke-linejoin="round"/>
<path d="M203.4,59.7 V63.3 Q203.7,66.6 208.6,70.9" fill="none" stroke="#141414" stroke-width="1.45" stroke-linejoin="round"/>
<path d="M209.4,59.7 Q210.3,66 209.9,71.1" fill="none" stroke="#141414" stroke-width="0.95" stroke-linejoin="round"/>
<path d="M209.4,59.7 L221,58.6" fill="none" stroke="#141414" stroke-width="1.45" stroke-linejoin="round"/>
<line x1="210" y1="68.9" x2="221.3" y2="68.4" stroke="#141414" stroke-width="0.65"/>
<path d="M203.4,97.7 H205.4 V107.7 H209.4 V97.7" fill="none" stroke="#141414" stroke-width="1.45" stroke-linejoin="round"/>
<path d="M203.4,97.7 V94.1 Q203.7,90.8 208.6,86.5" fill="none" stroke="#141414" stroke-width="1.45" stroke-linejoin="round"/>
<path d="M209.4,97.7 Q210.3,91.4 209.9,86.3" fill="none" stroke="#141414" stroke-width="0.95" stroke-linejoin="round"/>
<path d="M209.4,97.7 L221,98.8" fill="none" stroke="#141414" stroke-width="1.45" stroke-linejoin="round"/>
<line x1="210" y1="88.5" x2="221.3" y2="89" stroke="#141414" stroke-width="0.65"/>
<line x1="209.9" y1="93.9" x2="221" y2="93.9" stroke="#141414" stroke-width="0.95"/>
<path d="M205.4,73.4 V71.7 Q205.4,71.1 206,71.1 H209.4 Q210,71.1 210,71.7 V85.7 Q210,86.3 209.4,86.3 H206 Q205.4,86.3 205.4,85.7 V83.9" fill="none" stroke="#141414" stroke-width="1.45" stroke-linejoin="round"/>
<line x1="205.4" y1="73.4" x2="205.4" y2="83.9" stroke="#141414" stroke-width="0.65"/>
<path d="M220.3,97.5 V108.1 H209.6 Q208.4,108.1 208.4,109.3 V115.2 Q208.4,116.4 209.6,116.4 H275.6 Q276.8,116.4 276.8,115.2 V109.4 Q276.8,108.2 275.6,108.2 H269.8 V61.1" fill="none" stroke="#141414" stroke-width="1.45" stroke-linejoin="round"/>
<line x1="220.3" y1="108.1" x2="269.8" y2="108.1" stroke="#141414" stroke-width="0.95"/>
<line x1="265.2" y1="61.1" x2="265.2" y2="108" stroke="#141414" stroke-width="0.95"/>
<line x1="214.3" y1="105.8" x2="214.3" y2="116.4" stroke="#141414" stroke-width="0.65"/>
<line x1="222" y1="97.5" x2="222" y2="108" stroke="#141414" stroke-width="0.65"/>
<line x1="272" y1="108.2" x2="272" y2="116.4" stroke="#141414" stroke-width="0.65"/>
<path d="M269.8,70.6 H274.6 Q276.7,70.4 276.9,68.2 L278.6,63.6 H319.4" fill="none" stroke="#141414" stroke-width="1.45" stroke-linejoin="round"/>
<path d="M269.8,99.2 H274.6 Q276.7,99.4 276.9,101.6 L278.6,105.2 H319.4" fill="none" stroke="#141414" stroke-width="1.45" stroke-linejoin="round"/>
<line x1="270.6" y1="70.6" x2="270.6" y2="99.2" stroke="#141414" stroke-width="0.95"/>
<line x1="276.9" y1="68.2" x2="276.9" y2="101.6" stroke="#141414" stroke-width="0.95"/>
<line x1="281.6" y1="63.8" x2="281.6" y2="105" stroke="#141414" stroke-width="0.95"/>
<rect x="278.8" y="64.3" width="2.4" height="2.2" rx="0" fill="none" stroke="#141414" stroke-width="0.5"/>
<rect x="278.8" y="102.3" width="2.4" height="2.2" rx="0" fill="none" stroke="#141414" stroke-width="0.5"/>
<line x1="281.6" y1="66" x2="319.4" y2="66" stroke="#141414" stroke-width="0.65"/>
<line x1="281.6" y1="103.1" x2="319.4" y2="103.1" stroke="#141414" stroke-width="0.65"/>
<path d="M319.4,62.4 H344.4 Q349.4,62.6 349.4,67.6 V102 Q349.4,106.9 344.4,107.1 H319.4 Z" fill="none" stroke="#141414" stroke-width="1.45" stroke-linejoin="round"/>
<line x1="341.3" y1="62.6" x2="341.3" y2="107" stroke="#141414" stroke-width="0.65"/>
<line x1="319.4" y1="70.7" x2="341.3" y2="70.7" stroke="#141414" stroke-width="0.65"/>
<line x1="319.4" y1="97.9" x2="341.3" y2="97.9" stroke="#141414" stroke-width="0.65"/>
<rect x="283.3" y="72.3" width="25.4" height="25.4" rx="0" fill="none" stroke="#141414" stroke-width="0.8"/>
<rect x="284.4" y="73.1" width="23.2" height="3" rx="0.8" fill="none" stroke="#141414" stroke-width="0.5"/>
<rect x="284.4" y="93.9" width="23.2" height="3" rx="0.8" fill="none" stroke="#141414" stroke-width="0.5"/>
<line x1="283.8" y1="76.9" x2="308.2" y2="76.9" stroke="#333" stroke-width="0.5"/>
<line x1="283.8" y1="78" x2="308.2" y2="78" stroke="#333" stroke-width="0.5"/>
<line x1="283.8" y1="79.1" x2="308.2" y2="79.1" stroke="#333" stroke-width="0.5"/>
<line x1="283.8" y1="80.2" x2="308.2" y2="80.2" stroke="#333" stroke-width="0.5"/>
<line x1="283.8" y1="81.3" x2="308.2" y2="81.3" stroke="#333" stroke-width="0.5"/>
<line x1="283.8" y1="82.3" x2="308.2" y2="82.3" stroke="#333" stroke-width="0.5"/>
<line x1="283.8" y1="87.2" x2="308.2" y2="87.2" stroke="#333" stroke-width="0.5"/>
<line x1="283.8" y1="88.3" x2="308.2" y2="88.3" stroke="#333" stroke-width="0.5"/>
<line x1="283.8" y1="89.4" x2="308.2" y2="89.4" stroke="#333" stroke-width="0.5"/>
<line x1="283.8" y1="90.5" x2="308.2" y2="90.5" stroke="#333" stroke-width="0.5"/>
<line x1="283.8" y1="91.6" x2="308.2" y2="91.6" stroke="#333" stroke-width="0.5"/>
<line x1="283.8" y1="92.7" x2="308.2" y2="92.7" stroke="#333" stroke-width="0.5"/>
<circle cx="285.6" cy="74.6" r="0.8" fill="none" stroke="#141414" stroke-width="0.4"/>
<circle cx="306.4" cy="74.6" r="0.8" fill="none" stroke="#141414" stroke-width="0.4"/>
<circle cx="285.6" cy="95.4" r="0.8" fill="none" stroke="#141414" stroke-width="0.4"/>
<circle cx="306.4" cy="95.4" r="0.8" fill="none" stroke="#141414" stroke-width="0.4"/>
<line x1="308.7" y1="73.9" x2="319.4" y2="73.9" stroke="#141414" stroke-width="0.65"/>
<line x1="308.7" y1="76.3" x2="319.4" y2="76.3" stroke="#141414" stroke-width="0.65"/>
<line x1="308.7" y1="81.1" x2="319.4" y2="81.1" stroke="#141414" stroke-width="0.65"/>
<line x1="308.7" y1="87.6" x2="319.4" y2="87.6" stroke="#141414" stroke-width="0.65"/>
<line x1="308.7" y1="93" x2="319.4" y2="93" stroke="#141414" stroke-width="0.65"/>
<line x1="308.7" y1="96.2" x2="319.4" y2="96.2" stroke="#141414" stroke-width="0.65"/>
<line x1="311.5" y1="81.1" x2="311.5" y2="87.6" stroke="#141414" stroke-width="0.65"/>
<rect x="277.4" y="82.6" width="4.6" height="4" rx="0" fill="#fff" stroke="#141414" stroke-width="0.7"/>
<rect x="314.9" y="82.8" width="3.4" height="3.6" rx="0" fill="#555" stroke="#141414" stroke-width="0.6"/>
<line x1="256.5" y1="84.5" x2="353" y2="84.5" stroke="#141414" stroke-width="0.45" stroke-dasharray="7 1.5 1.2 1.5"/>
<line x1="185.4" y1="12.5" x2="267.6" y2="12.5" stroke="#141414" stroke-width="0.65"/>
<polygon points="185.4,12.5 192.8,11.15 192.8,13.85" fill="#141414"/>
<polygon points="267.6,12.5 260.2,11.15 260.2,13.85" fill="#141414"/>
<line x1="267.6" y1="12.5" x2="349.1" y2="12.5" stroke="#141414" stroke-width="0.65"/>
<polygon points="267.6,12.5 275,11.15 275,13.85" fill="#141414"/>
<polygon points="349.1,12.5 341.7,11.15 341.7,13.85" fill="#141414"/>
<text x="0" y="0.4" font-family='"Liberation Serif", "Noto Serif CJK SC", serif' font-size="11.48" text-anchor="middle" fill="#141414" transform="translate(226.6 10.6) scale(0.9 1)">280</text>
<text x="0" y="0.4" font-family='"Liberation Serif", "Noto Serif CJK SC", serif' font-size="11.48" text-anchor="middle" fill="#141414" transform="translate(307.9 10.6) scale(0.9 1)">L</text>
<line x1="185.4" y1="10.2" x2="185.4" y2="152.8" stroke="#141414" stroke-width="0.65"/>
<line x1="267.6" y1="10.2" x2="267.6" y2="108" stroke="#141414" stroke-width="0.65"/>
<line x1="349.1" y1="10.2" x2="349.1" y2="62.4" stroke="#141414" stroke-width="0.65"/>
<line x1="349.4" y1="62.4" x2="370" y2="62.4" stroke="#141414" stroke-width="0.65"/>
<line x1="346" y1="106.6" x2="370" y2="106.6" stroke="#141414" stroke-width="0.65"/>
<line x1="367.3" y1="62.4" x2="367.3" y2="106.6" stroke="#141414" stroke-width="0.65"/>
<polygon points="367.3,62.4 365.95,69.8 368.65,69.8" fill="#141414"/>
<polygon points="367.3,106.6 365.95,99.2 368.65,99.2" fill="#141414"/>
<text x="0" y="0.4" font-family='"Liberation Serif", "Noto Serif CJK SC", serif' font-size="11.48" text-anchor="middle" fill="#141414" transform="translate(365 84.5) rotate(-90) scale(0.9 1)">AC</text>
<line x1="185.4" y1="27.4" x2="236.2" y2="27.4" stroke="#141414" stroke-width="0.65"/>
<polygon points="185.4,27.4 192.8,26.05 192.8,28.75" fill="#141414"/>
<polygon points="205.4,27.4 198,26.05 198,28.75" fill="#141414"/>
<polygon points="209.5,27.4 216.9,26.05 216.9,28.75" fill="#141414"/>
<text x="0" y="0.4" font-family='"Liberation Serif", "Noto Serif CJK SC", serif' font-size="11.48" text-anchor="middle" fill="#141414" transform="translate(196.1 25.2) scale(0.9 1)">70</text>
<text x="0" y="0.4" font-family='"Liberation Serif", "Noto Serif CJK SC", serif' font-size="11.48" text-anchor="middle" fill="#141414" transform="translate(230.5 25.2) scale(0.9 1)">12</text>
<line x1="190.3" y1="41.5" x2="236.5" y2="41.5" stroke="#141414" stroke-width="0.65"/>
<polygon points="205.4,41.5 198,40.15 198,42.85" fill="#141414"/>
<polygon points="207.1,41.5 214.5,40.15 214.5,42.85" fill="#141414"/>
<text x="0" y="0.4" font-family='"Liberation Serif", "Noto Serif CJK SC", serif' font-size="11.48" text-anchor="middle" fill="#141414" transform="translate(228.8 38.9) scale(0.9 1)">3.5</text>
<line x1="205.4" y1="24.4" x2="205.4" y2="49.4" stroke="#141414" stroke-width="0.65"/>
<line x1="207.1" y1="24.4" x2="207.1" y2="49.4" stroke="#141414" stroke-width="0.65"/>
<line x1="209.5" y1="24.4" x2="209.5" y2="49.4" stroke="#141414" stroke-width="0.65"/>
<line x1="141.7" y1="49.5" x2="141.7" y2="107.8" stroke="#141414" stroke-width="0.65"/>
<polygon points="141.7,49.5 140.35,56.9 143.05,56.9" fill="#141414"/>
<polygon points="141.7,107.8 140.35,100.4 143.05,100.4" fill="#141414"/>
<line x1="139.4" y1="49.5" x2="205.4" y2="49.5" stroke="#141414" stroke-width="0.65"/>
<line x1="139.4" y1="107.8" x2="208" y2="107.8" stroke="#141414" stroke-width="0.65"/>
<text x="0" y="0.4" font-family='"Liberation Serif", "Noto Serif CJK SC", serif' font-size="11.48" text-anchor="middle" fill="#141414" transform="translate(139.8 78.6) rotate(-90) scale(0.9 1)" textLength="26" lengthAdjust="spacingAndGlyphs">Ø200</text>
<line x1="157.3" y1="59.9" x2="157.3" y2="97.9" stroke="#141414" stroke-width="0.65"/>
<polygon points="157.3,59.9 155.95,67.3 158.65,67.3" fill="#141414"/>
<polygon points="157.3,97.9 155.95,90.5 158.65,90.5" fill="#141414"/>
<line x1="155" y1="59.9" x2="205.4" y2="59.9" stroke="#141414" stroke-width="0.65"/>
<line x1="155" y1="97.9" x2="205.4" y2="97.9" stroke="#141414" stroke-width="0.65"/>
<text x="0" y="0.4" font-family='"Liberation Serif", "Noto Serif CJK SC", serif' font-size="11.48" text-anchor="start" fill="#141414" transform="translate(155.4 93.1) rotate(-90) scale(0.9 1)" textLength="24.89" lengthAdjust="spacingAndGlyphs">Ø130</text>
<text x="0" y="0.4" font-family='"Liberation Serif", "Noto Serif CJK SC", serif' font-size="6.47" text-anchor="start" fill="#141414" transform="translate(156.4 70.4) rotate(-90) scale(0.9 1)" textLength="7.11" lengthAdjust="spacingAndGlyphs">j6</text>
<line x1="173.2" y1="59.6" x2="173.2" y2="98.1" stroke="#141414" stroke-width="0.65"/>
<polygon points="173.2,73.4 171.85,66 174.55,66" fill="#141414"/>
<polygon points="173.2,83.9 171.85,91.3 174.55,91.3" fill="#141414"/>
<line x1="171" y1="73.4" x2="186" y2="73.4" stroke="#141414" stroke-width="0.65"/>
<line x1="171" y1="83.9" x2="186" y2="83.9" stroke="#141414" stroke-width="0.65"/>
<text x="0" y="0.4" font-family='"Liberation Serif", "Noto Serif CJK SC", serif' font-size="11.48" text-anchor="start" fill="#141414" transform="translate(170.8 91.4) rotate(-90) scale(0.9 1)" textLength="20" lengthAdjust="spacingAndGlyphs">Ø35</text>
<text x="0" y="0.4" font-family='"Liberation Serif", "Noto Serif CJK SC", serif' font-size="6.47" text-anchor="start" fill="#141414" transform="translate(171.2 73) rotate(-90) scale(0.9 1)" textLength="8" lengthAdjust="spacingAndGlyphs">k6</text>
<line x1="208.4" y1="116.4" x2="208.4" y2="169.8" stroke="#141414" stroke-width="0.65"/>
<line x1="227.5" y1="116.4" x2="227.5" y2="136.3" stroke="#141414" stroke-width="0.65"/>
<line x1="214.3" y1="116.4" x2="214.3" y2="152.7" stroke="#141414" stroke-width="0.65"/>
<line x1="272" y1="116.4" x2="272" y2="152.7" stroke="#141414" stroke-width="0.65"/>
<line x1="276.8" y1="116.4" x2="276.8" y2="169.8" stroke="#141414" stroke-width="0.65"/>
<line x1="208.4" y1="134.9" x2="227.5" y2="134.9" stroke="#141414" stroke-width="0.65"/>
<polygon points="208.4,134.9 215.8,133.55 215.8,136.25" fill="#141414"/>
<polygon points="227.5,134.9 220.1,133.55 220.1,136.25" fill="#141414"/>
<text x="0" y="0.4" font-family='"Liberation Serif", "Noto Serif CJK SC", serif' font-size="11.48" text-anchor="middle" fill="#141414" transform="translate(218 132.3) scale(0.9 1)">65</text>
<line x1="185.4" y1="151.3" x2="214.3" y2="151.3" stroke="#141414" stroke-width="0.65"/>
<polygon points="185.4,151.3 192.8,149.95 192.8,152.65" fill="#141414"/>
<polygon points="214.3,151.3 206.9,149.95 206.9,152.65" fill="#141414"/>
<line x1="214.3" y1="151.3" x2="272" y2="151.3" stroke="#141414" stroke-width="0.65"/>
<polygon points="214.3,151.3 221.7,149.95 221.7,152.65" fill="#141414"/>
<polygon points="272,151.3 264.6,149.95 264.6,152.65" fill="#141414"/>
<text x="0" y="0.4" font-family='"Liberation Serif", "Noto Serif CJK SC", serif' font-size="11.48" text-anchor="middle" fill="#141414" transform="translate(199.6 148.9) scale(0.9 1)">100</text>
<text x="0" y="0.4" font-family='"Liberation Serif", "Noto Serif CJK SC", serif' font-size="11.48" text-anchor="middle" fill="#141414" transform="translate(242.6 148.9) scale(0.9 1)">195</text>
<line x1="208.4" y1="168.4" x2="276.8" y2="168.4" stroke="#141414" stroke-width="0.65"/>
<polygon points="208.4,168.4 215.8,167.05 215.8,169.75" fill="#141414"/>
<polygon points="276.8,168.4 269.4,167.05 269.4,169.75" fill="#141414"/>
<text x="0" y="0.4" font-family='"Liberation Serif", "Noto Serif CJK SC", serif' font-size="11.48" text-anchor="middle" fill="#141414" transform="translate(242.8 166.1) scale(0.9 1)">235</text>
</g>
<text x="0" y="0.4" font-family='"Liberation Serif", "Noto Serif CJK SC", serif' font-size="11.6" fill="#141414" transform="translate(138.4 601.6) scale(0.9 1)"><tspan textLength="21.8" lengthAdjust="spacingAndGlyphs">M12</tspan><tspan x="22.5" dy="-0.4" font-size="10.7" fill="#333">深</tspan><tspan x="33.9" dy="0.4" textLength="11.7" lengthAdjust="spacingAndGlyphs">35</tspan></text>
<line x1="134.2" y1="603.3" x2="180.7" y2="603.3" stroke="#141414" stroke-width="0.65"/>
<text x="0" y="0.4" font-family='"Liberation Serif", "Noto Serif CJK SC", serif' font-size="11.6" text-anchor="start" fill="#141414" transform="translate(136.4 611.6) scale(0.9 1)" textLength="47.78" lengthAdjust="spacingAndGlyphs">GB/T 145</text>
<text x="0" y="0.4" font-family='"Liberation Serif", "Noto Serif CJK SC", serif' font-size="11.6" text-anchor="start" fill="#141414" transform="translate(136.4 623.4) scale(0.9 1)" textLength="42.22" lengthAdjust="spacingAndGlyphs">DIN 332</text>
<line x1="180.7" y1="603.3" x2="180.7" y2="551.4" stroke="#141414" stroke-width="0.65"/>
<line x1="180.7" y1="551.4" x2="184.2" y2="545" stroke="#141414" stroke-width="0.65"/>
<path d="M185.2,543.4 L183.4,545.1 L185.2,546.6" fill="none" stroke="#141414" stroke-width="0.5" stroke-linejoin="round"/>
<g transform="translate(-0.30 467.40)">
<path d="M515.8,54.5 H570.3 L574.9,63.7 V116.7 H511.2 V63.7 Z" fill="none" stroke="#141414" stroke-width="1.45" stroke-linejoin="round"/>
<path d="M511.2,108.2 H528.6 Q530.1,108.2 530.1,109.7 V116.7" fill="none" stroke="#141414" stroke-width="1.45" stroke-linejoin="round"/>
<line x1="521.1" y1="106.6" x2="521.1" y2="116.7" stroke="#141414" stroke-width="0.65"/>
<line x1="556.4" y1="110.1" x2="557.9" y2="108.6" stroke="#333" stroke-width="0.55"/>
<line x1="556.4" y1="113.1" x2="560.9" y2="108.6" stroke="#333" stroke-width="0.55"/>
<line x1="556.4" y1="116.1" x2="561.4" y2="111.1" stroke="#333" stroke-width="0.55"/>
<line x1="559.3" y1="116.2" x2="561.4" y2="114.1" stroke="#333" stroke-width="0.55"/>
<line x1="567.7" y1="110.1" x2="569.2" y2="108.6" stroke="#333" stroke-width="0.55"/>
<line x1="567.7" y1="113.1" x2="572.2" y2="108.6" stroke="#333" stroke-width="0.55"/>
<line x1="567.7" y1="116.1" x2="573.9" y2="109.9" stroke="#333" stroke-width="0.55"/>
<line x1="570.6" y1="116.2" x2="573.9" y2="112.9" stroke="#333" stroke-width="0.55"/>
<line x1="573.6" y1="116.2" x2="573.9" y2="115.9" stroke="#333" stroke-width="0.55"/>
<path d="M556.4,116.7 V108.6 H574.9" fill="none" stroke="#141414" stroke-width="0.95" stroke-linejoin="round"/>
<line x1="561.4" y1="108.6" x2="561.4" y2="116.7" stroke="#141414" stroke-width="0.7"/>
<line x1="567.7" y1="108.6" x2="567.7" y2="116.7" stroke="#141414" stroke-width="0.7"/>
<path d="M574.9,70.9 H582.6 Q587.0,84 582.6,97.4 H574.9" fill="none" stroke="#141414" stroke-width="1" stroke-linejoin="round"/>
<line x1="577.2" y1="70.9" x2="577.2" y2="97.4" stroke="#141414" stroke-width="0.65"/>
<line x1="582.2" y1="72" x2="582.2" y2="96.4" stroke="#141414" stroke-width="0.65"/>
<rect x="580.6" y="94" width="1.6" height="1.8" rx="0" fill="none" stroke="#141414" stroke-width="0.4"/>
<line x1="572.5" y1="84.5" x2="589.5" y2="84.5" stroke="#141414" stroke-width="0.45" stroke-dasharray="5 1.2 1 1.2"/>
<line x1="543" y1="51.5" x2="543" y2="120" stroke="#141414" stroke-width="0.45" stroke-dasharray="7 1.5 1.2 1.5"/>
<line x1="500.4" y1="78" x2="565.5" y2="78" stroke="#141414" stroke-width="0.45" stroke-dasharray="7 1.5 1.2 1.5"/>
</g>
<line x1="515.2" y1="562" x2="515.2" y2="575.6" stroke="#141414" stroke-width="0.65"/>
<line x1="517.4" y1="562" x2="517.4" y2="575.6" stroke="#141414" stroke-width="0.65"/>
<line x1="567.9" y1="562" x2="567.9" y2="575.6" stroke="#141414" stroke-width="0.65"/>
<line x1="570.2" y1="562" x2="570.2" y2="575.6" stroke="#141414" stroke-width="0.65"/>
<path d="M516.6,523.4 L512.4,531.6" fill="none" stroke="#141414" stroke-width="0.65" stroke-linejoin="round"/>
<path d="M568.8,523.4 L573.0,531.6" fill="none" stroke="#141414" stroke-width="0.65" stroke-linejoin="round"/>
<circle cx="542.7" cy="545.7" r="30" fill="#fff" stroke="#141414" stroke-width="1.55"/>
<circle cx="542.7" cy="545.7" r="24.3" fill="none" stroke="#141414" stroke-width="0.65"/>
<circle cx="542.7" cy="545.7" r="18.7" fill="none" stroke="#141414" stroke-width="0.65"/>
<circle cx="542.7" cy="545.7" r="15.6" fill="none" stroke="#141414" stroke-width="0.65"/>
<circle cx="542.7" cy="545.7" r="8.4" fill="none" stroke="#141414" stroke-width="0.95"/>
<circle cx="542.7" cy="545.7" r="5.2" fill="none" stroke="#141414" stroke-width="0.65"/>
<circle cx="542.7" cy="545.7" r="2.8" fill="none" stroke="#141414" stroke-width="0.65"/>
<circle cx="525.4" cy="528.7" r="1.4" fill="#fff" stroke="#141414" stroke-width="0.5"/>
<circle cx="525.4" cy="562.7" r="1.4" fill="#fff" stroke="#141414" stroke-width="0.5"/>
<circle cx="560" cy="528.7" r="1.4" fill="#fff" stroke="#141414" stroke-width="0.5"/>
<circle cx="560" cy="562.7" r="1.4" fill="#fff" stroke="#141414" stroke-width="0.5"/>
<rect x="541.5" y="514.2" width="2.4" height="1.8" rx="0" fill="#141414" stroke="#141414" stroke-width="0.3"/>
<line x1="542.7" y1="500" x2="542.7" y2="588" stroke="#141414" stroke-width="0.45" stroke-dasharray="7 1.5 1.2 1.5"/>
<line x1="496.3" y1="545.7" x2="566" y2="545.7" stroke="#141414" stroke-width="0.45" stroke-dasharray="7 1.5 1.2 1.5"/>
<line x1="511.3" y1="480" x2="574.5" y2="480" stroke="#141414" stroke-width="0.65"/>
<polygon points="511.3,480 518.7,478.65 518.7,481.35" fill="#141414"/>
<polygon points="574.5,480 567.1,478.65 567.1,481.35" fill="#141414"/>
<text x="0" y="0.4" font-family='"Liberation Serif", "Noto Serif CJK SC", serif' font-size="11.48" text-anchor="middle" fill="#141414" transform="translate(543.2 478) scale(0.9 1)">215</text>
<line x1="511.3" y1="477.6" x2="511.3" y2="531" stroke="#141414" stroke-width="0.65"/>
<line x1="574.5" y1="477.6" x2="574.5" y2="531" stroke="#141414" stroke-width="0.65"/>
<line x1="478.8" y1="497" x2="541.4" y2="497" stroke="#141414" stroke-width="0.65"/>
<polygon points="523.8,497 516.4,495.65 516.4,498.35" fill="#141414"/>
<polygon points="526.4,497 533.8,495.65 533.8,498.35" fill="#141414"/>
<line x1="523.8" y1="494.5" x2="523.8" y2="529.4" stroke="#141414" stroke-width="0.65"/>
<line x1="526.4" y1="494.5" x2="526.4" y2="529.4" stroke="#141414" stroke-width="0.65"/>
<text x="0" y="0.4" font-family='"Liberation Serif", "Noto Serif CJK SC", serif' font-size="11.48" text-anchor="middle" fill="#141414" transform="translate(494.4 493.9) scale(0.9 1)" textLength="29.11" lengthAdjust="spacingAndGlyphs">4-Ø11</text>
<line x1="542.7" y1="502.6" x2="585.2" y2="502.6" stroke="#141414" stroke-width="0.65"/>
<polygon points="542.7,502.6 550.1,501.25 550.1,503.95" fill="#141414"/>
<polygon points="585.2,502.6 577.8,501.25 577.8,503.95" fill="#141414"/>
<text x="0" y="0.4" font-family='"Liberation Serif", "Noto Serif CJK SC", serif' font-size="11.48" text-anchor="middle" fill="#141414" transform="translate(564.9 500.2) scale(0.9 1)">AD</text>
<line x1="585.2" y1="500" x2="585.2" y2="539.2" stroke="#141414" stroke-width="0.65"/>
<text x="0" y="0.4" font-family='"Liberation Serif", "Noto Serif CJK SC", serif' font-size="11.48" text-anchor="start" fill="#141414" transform="translate(483.8 511.8) scale(0.9 1)" textLength="25.78" lengthAdjust="spacingAndGlyphs">Ø165</text>
<line x1="483.8" y1="513.3" x2="507" y2="513.3" stroke="#141414" stroke-width="0.65"/>
<line x1="507" y1="513.3" x2="567.6" y2="568.4" stroke="#141414" stroke-width="0.65"/>
<polygon points="524.65,529.29 518.59,525.54 520.34,523.61" fill="#141414"/>
<polygon points="560.75,562.11 566.81,565.86 565.06,567.79" fill="#141414"/>
<line x1="478.8" y1="521.9" x2="478.8" y2="584" stroke="#141414" stroke-width="0.65"/>
<polygon points="478.8,521.9 477.45,529.3 480.15,529.3" fill="#141414"/>
<polygon points="478.8,584 477.45,576.6 480.15,576.6" fill="#141414"/>
<line x1="476.6" y1="521.9" x2="515.4" y2="521.9" stroke="#141414" stroke-width="0.65"/>
<line x1="476.6" y1="584" x2="511" y2="584" stroke="#141414" stroke-width="0.65"/>
<text x="0" y="0.4" font-family='"Liberation Serif", "Noto Serif CJK SC", serif' font-size="11.48" text-anchor="middle" fill="#141414" transform="translate(476 552.6) rotate(-90) scale(0.9 1)">212</text>
<line x1="499.3" y1="545.7" x2="499.3" y2="584" stroke="#141414" stroke-width="0.65"/>
<polygon points="499.3,545.7 497.95,553.1 500.65,553.1" fill="#141414"/>
<polygon points="499.3,584 497.95,576.6 500.65,576.6" fill="#141414"/>
<line x1="496.3" y1="545.7" x2="512" y2="545.7" stroke="#141414" stroke-width="0.65"/>
<text x="0" y="0.4" font-family='"Liberation Serif", "Noto Serif CJK SC", serif' font-size="11.48" text-anchor="start" fill="#141414" transform="translate(495.6 578) rotate(-90) scale(0.9 1)" textLength="16.67" lengthAdjust="spacingAndGlyphs">130</text>
<text x="0" y="0.4" font-family='"Liberation Serif", "Noto Serif CJK SC", serif' font-size="6.24" text-anchor="start" fill="#141414" transform="translate(491.4 560.6) rotate(-90) scale(0.9 1)">0</text>
<text x="0" y="0.4" font-family='"Liberation Serif", "Noto Serif CJK SC", serif' font-size="6.24" text-anchor="start" fill="#141414" transform="translate(496 562) rotate(-90) scale(0.9 1)">-0.5</text>
<line x1="574.5" y1="575.9" x2="610.6" y2="575.9" stroke="#141414" stroke-width="0.65"/>
<line x1="574.5" y1="584" x2="610.6" y2="584" stroke="#141414" stroke-width="0.65"/>
<line x1="608.2" y1="561" x2="608.2" y2="598.8" stroke="#141414" stroke-width="0.65"/>
<polygon points="608.2,575.9 606.85,568.5 609.55,568.5" fill="#141414"/>
<polygon points="608.2,584 606.85,591.4 609.55,591.4" fill="#141414"/>
<text x="0" y="0.4" font-family='"Liberation Serif", "Noto Serif CJK SC", serif' font-size="11.48" text-anchor="middle" fill="#141414" transform="translate(606.4 559.4) rotate(-90) scale(0.9 1)">30</text>
<line x1="562.4" y1="584" x2="562.4" y2="602.6" stroke="#141414" stroke-width="0.65"/>
<line x1="563.7" y1="584" x2="563.7" y2="602.6" stroke="#555" stroke-width="0.4"/>
<line x1="565" y1="584" x2="565" y2="602.6" stroke="#555" stroke-width="0.4"/>
<line x1="566.3" y1="584" x2="566.3" y2="602.6" stroke="#141414" stroke-width="0.65"/>
<line x1="547.6" y1="600" x2="602.7" y2="600" stroke="#141414" stroke-width="0.65"/>
<polygon points="562.4,600 555,598.65 555,601.35" fill="#141414"/>
<polygon points="566.3,600 573.7,598.65 573.7,601.35" fill="#141414"/>
<text x="0" y="0.4" font-family='"Liberation Serif", "Noto Serif CJK SC", serif' font-size="11.48" text-anchor="middle" fill="#141414" transform="translate(591.7 598) scale(0.9 1)">Ø14</text>
<line x1="496.3" y1="601.3" x2="545.1" y2="601.3" stroke="#141414" stroke-width="0.65"/>
<polygon points="511.3,601.3 503.9,599.95 503.9,602.65" fill="#141414"/>
<polygon points="530.2,601.3 537.6,599.95 537.6,602.65" fill="#141414"/>
<text x="0" y="0.4" font-family='"Liberation Serif", "Noto Serif CJK SC", serif' font-size="11.48" text-anchor="middle" fill="#141414" transform="translate(520.2 599.3) scale(0.9 1)">62</text>
<line x1="511.3" y1="584" x2="511.3" y2="634.6" stroke="#141414" stroke-width="0.65"/>
<line x1="520.8" y1="575" x2="520.8" y2="619" stroke="#141414" stroke-width="0.65"/>
<line x1="530.2" y1="584" x2="530.2" y2="603" stroke="#141414" stroke-width="0.65"/>
<line x1="520.8" y1="617.6" x2="564.6" y2="617.6" stroke="#141414" stroke-width="0.65"/>
<polygon points="520.8,617.6 528.2,616.25 528.2,618.95" fill="#141414"/>
<polygon points="564.6,617.6 557.2,616.25 557.2,618.95" fill="#141414"/>
<text x="0" y="0.4" font-family='"Liberation Serif", "Noto Serif CJK SC", serif' font-size="11.48" text-anchor="middle" fill="#141414" transform="translate(542.8 614.8) scale(0.9 1)">150</text>
<line x1="564.6" y1="584" x2="564.6" y2="619" stroke="#141414" stroke-width="0.65"/>
<line x1="511.3" y1="633.1" x2="574.5" y2="633.1" stroke="#141414" stroke-width="0.65"/>
<polygon points="511.3,633.1 518.7,631.75 518.7,634.45" fill="#141414"/>
<polygon points="574.5,633.1 567.1,631.75 567.1,634.45" fill="#141414"/>
<text x="0" y="0.4" font-family='"Liberation Serif", "Noto Serif CJK SC", serif' font-size="11.48" text-anchor="middle" fill="#141414" transform="translate(543 630.2) scale(0.9 1)">213</text>
<line x1="574.5" y1="584" x2="574.5" y2="634.6" stroke="#141414" stroke-width="0.65"/>
</svg>
</body></html>
